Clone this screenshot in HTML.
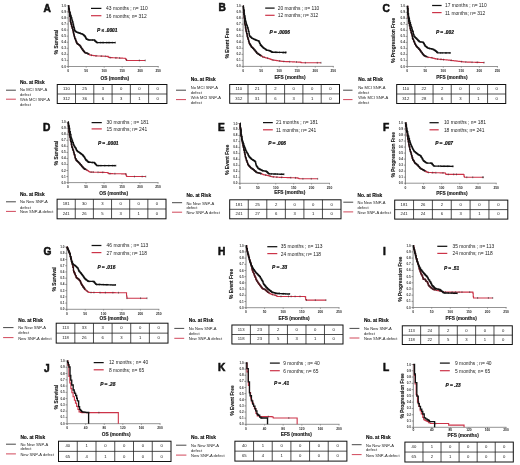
<!DOCTYPE html>
<html><head><meta charset="utf-8"><style>
html,body{margin:0;padding:0;background:#fff;}
svg{display:block;will-change:transform;}
text{font-family:"Liberation Sans", sans-serif;}
</style></head><body>
<svg width="520" height="465" viewBox="0 0 520 465" font-family='"Liberation Sans", sans-serif'>
<rect width="520" height="465" fill="#fff"/>
<text x="43.5" y="11.6" font-size="10.2" font-weight="bold" fill="#111" stroke="#111" stroke-width="0.55">A</text>
<text transform="translate(56 42) rotate(-90)" text-anchor="middle" dominant-baseline="central" font-size="4.8" font-weight="bold" fill="#222" stroke="#222" stroke-width="0.15">% Survival</text>
<path d="M68.2 5.5 V67.7" stroke="#777" stroke-width="0.9" fill="none"/>
<path d="M66.6 66.5H68.2M66.6 60.43H68.2M66.6 54.36H68.2M66.6 48.29H68.2M66.6 42.22H68.2M66.6 36.15H68.2M66.6 30.08H68.2M66.6 24.01H68.2M66.6 17.94H68.2M66.6 11.87H68.2M66.6 5.8H68.2" stroke="#555" stroke-width="0.6" fill="none"/>
<g font-size="3.1" font-weight="bold" fill="#333"><text x="65.9" y="66.5" text-anchor="end" dominant-baseline="central">0.0</text><text x="65.9" y="60.43" text-anchor="end" dominant-baseline="central">0.1</text><text x="65.9" y="54.36" text-anchor="end" dominant-baseline="central">0.2</text><text x="65.9" y="48.29" text-anchor="end" dominant-baseline="central">0.3</text><text x="65.9" y="42.22" text-anchor="end" dominant-baseline="central">0.4</text><text x="65.9" y="36.15" text-anchor="end" dominant-baseline="central">0.5</text><text x="65.9" y="30.08" text-anchor="end" dominant-baseline="central">0.6</text><text x="65.9" y="24.01" text-anchor="end" dominant-baseline="central">0.7</text><text x="65.9" y="17.94" text-anchor="end" dominant-baseline="central">0.8</text><text x="65.9" y="11.87" text-anchor="end" dominant-baseline="central">0.9</text><text x="65.9" y="5.8" text-anchor="end" dominant-baseline="central">1.0</text></g>
<path d="M68.2 66.5 H158.7" stroke="#888" stroke-width="0.9" fill="none"/>
<path d="M68.2 66.5V67.7M86.2 66.5V67.7M104.2 66.5V67.7M122.2 66.5V67.7M140.2 66.5V67.7M158.2 66.5V67.7" stroke="#666" stroke-width="0.6" fill="none"/>
<g font-size="3.3" font-weight="bold" fill="#2a2a2a"><text x="68.2" y="70.9" text-anchor="middle" dominant-baseline="central">0</text><text x="86.2" y="70.9" text-anchor="middle" dominant-baseline="central">50</text><text x="104.2" y="70.9" text-anchor="middle" dominant-baseline="central">100</text><text x="122.2" y="70.9" text-anchor="middle" dominant-baseline="central">150</text><text x="140.2" y="70.9" text-anchor="middle" dominant-baseline="central">200</text><text x="158.2" y="70.9" text-anchor="middle" dominant-baseline="central">250</text></g>
<text x="114.8" y="78.3" text-anchor="middle" dominant-baseline="central" font-size="4.8" font-weight="bold" fill="#222" stroke="#222" stroke-width="0.15">OS (months)</text>
<path d="M68.2 5.8L68.7 5.8L68.7 8.9L69.22 8.9L69.22 12.17L69.74 12.17L69.74 16.32L70.3 16.32L70.3 21.28L70.61 21.28L70.61 22.51L71.01 22.51L71.01 24.12L71.5 24.12L71.5 26.12L72.07 26.12L72.07 28L72.64 28L72.64 29.89L73.16 29.89L73.16 31.92L73.44 31.92L73.44 33.04L73.78 33.04L73.78 34.42L74.04 34.42L74.04 35.5L74.32 35.5L74.32 36.64L74.67 36.64L74.67 38.07L75 38.07L75 38.96L75.59 38.96L75.59 40.39L76.06 40.39L76.06 41.51L76.3 41.51L76.3 42.1L76.83 42.1L76.83 43.38L77.29 43.38L77.29 43.77L77.71 43.77L77.71 44.06L78.19 44.06L78.19 44.39L78.53 44.39L78.53 44.62L78.77 44.62L78.77 44.78L79.26 44.78L79.26 45.11L79.64 45.11L79.64 45.52L79.9 45.52L79.9 45.93L80.55 45.93L80.55 46.92L80.88 46.92L80.88 47.44L81.45 47.44L81.45 48.31L81.93 48.31L81.93 49L82.54 49L82.54 49.8L82.99 49.8L82.99 50.39L83.29 50.39L83.29 50.79L83.79 50.79L83.79 51.45L84.33 51.45L84.33 52.16L84.8 52.16L84.8 52.6L85.08 52.6L85.08 52.69L85.55 52.69L85.55 52.85L86.18 52.85L86.18 53.06L86.6 53.06L86.6 53.2L87.19 53.2L87.19 53.4L87.69 53.4L87.69 53.68L88.1 53.68L88.1 53.91L88.55 53.91L88.55 54.16L88.79 54.16L88.79 54.3L89.36 54.3L89.36 54.62L89.74 54.62L89.74 54.83L90.1 54.83L90.1 55.03L90.33 55.03L90.33 55.11L90.76 55.11L90.76 55.17L91.16 55.17L91.16 55.23L91.4 55.23L91.4 55.26L91.93 55.26L91.93 55.33L92.32 55.33L92.32 55.39L92.84 55.39L92.84 55.46L93.16 55.46L93.16 55.51L93.71 55.51L93.71 55.59L94.24 55.59L94.24 55.66L94.7 55.66L94.7 55.73L95.03 55.73L95.03 55.77L95.54 55.77L95.54 55.84L96.12 55.84L96.12 55.89L96.51 55.89L96.51 55.91L97.07 55.91L97.07 55.93L97.45 55.93L97.45 55.95L97.89 55.95L97.89 55.97L98.27 55.97L98.27 55.98L98.5 55.98L98.5 55.99L98.75 55.99L98.75 56L99.07 56L99.07 56.01L99.55 56.01L99.55 56.03L99.87 56.03L99.87 56.05L100.49 56.05L100.49 56.07L100.9 56.07L100.9 56.09L101.44 56.09L101.44 56.11L101.68 56.11L101.68 56.12L102.17 56.12L102.17 56.14L102.5 56.14L102.5 56.16L103.12 56.16L103.12 56.18L103.55 56.18L103.55 56.2L104.05 56.2L104.05 56.22L104.42 56.22L104.42 56.24L104.85 56.24L104.85 56.26L105.28 56.26L105.28 56.27L105.87 56.27L105.87 56.3L106.44 56.3L106.44 56.32L106.66 56.32L106.66 56.33L107.17 56.33L107.17 56.35L107.44 56.35L107.44 56.36L108.06 56.36L108.06 56.86L108.62 56.86L108.62 57.31L109.06 57.31L109.06 57.53L109.55 57.53L109.55 57.55L110 57.55L110 57.57L110.25 57.57L110.25 57.58L110.5 57.58L110.5 57.6L110.93 57.6L110.93 57.62L111.41 57.62L111.41 57.64L111.8 57.64L111.8 57.66L112.17 57.66L112.17 57.68L112.77 57.68L112.77 57.71L113.01 57.71L113.01 57.72L113.51 57.72L113.51 57.74L114.12 57.74L114.12 57.77L114.68 57.77L114.68 57.8L115.26 57.8L115.26 57.83L115.7 57.83L115.7 57.85L115.94 57.85L115.94 57.86L116.41 57.86L116.41 57.88L116.64 57.88L116.64 57.89L117.01 57.89L117.01 57.91L117.48 57.91L117.48 57.94L118.05 57.94L118.05 57.96L118.58 57.96L118.58 57.99L118.83 57.99L118.83 58L119.41 58L119.41 58.03L119.95 58.03L119.95 58.06L120.55 58.06L120.55 58.09L120.81 58.09L120.81 58.1L121.43 58.1L121.43 58.13L121.93 58.13L121.93 58.15L122.25 58.15L122.25 58.17L122.52 58.17L122.52 58.18L123 58.18L123 58.2L123.28 58.2L123.28 58.22L123.52 58.22L123.52 58.23L123.99 58.23L123.99 58.25L124.46 58.25L124.46 58.28L124.74 58.28L124.74 58.29L125.24 58.29L125.24 58.55L125.61 58.55L125.61 59.09L126.09 59.09L126.09 59.8L126.51 59.8L126.51 60.41L127.05 60.41L127.05 60.43L127.67 60.43L128.24 60.43L128.63 60.43L129.14 60.43L129.55 60.43L130.11 60.43L130.46 60.43L130.74 60.43L131.08 60.43L131.52 60.43L132.03 60.43L132.64 60.43L133.12 60.43L133.58 60.43L134.21 60.43L134.5 60.43L135.15 60.43L135.67 60.43L135.9 60.43L136.54 60.43L137.11 60.43L137.72 60.43L138.37 60.43L138.73 60.43L139.04 60.43L139.61 60.43L140.18 60.43L140.45 60.43L140.74 60.43L141.13 60.43L141.57 60.43L141.81 60.43L142.28 60.43L142.75 60.43L143.01 60.43L143.49 60.43L143.95 60.43L144.54 60.43L145.07 60.43L145.24 60.43" stroke="#cc3348" stroke-width="1.1" fill="none"/>
<path d="M68.2 5.8L68.7 5.8L68.7 8.9L69.22 8.9L69.22 12.17L69.74 12.17L69.74 16.32L70.3 16.32L70.3 21.28L70.61 21.28L70.61 22.51L71.01 22.51L71.01 24.12L71.5 24.12L71.5 26.12L72.07 26.12L72.07 28L72.64 28L72.64 29.89L73.16 29.89L73.16 31.92L73.44 31.92L73.44 33.04L73.78 33.04L73.78 34.42L74.04 34.42L74.04 35.5L74.32 35.5L74.32 36.64L74.67 36.64L74.67 38.07L75 38.07L75 38.96L75.59 38.96L75.59 40.39L76.06 40.39L76.06 41.51L76.3 41.51L76.3 42.1L76.83 42.1L76.83 43.38L77.29 43.38L77.29 43.77L77.71 43.77L77.71 44.06L78.19 44.06L78.19 44.39L78.53 44.39L78.53 44.62L78.77 44.62L78.77 44.78L79.26 44.78L79.26 45.11L79.64 45.11L79.64 45.52L79.9 45.52L79.9 45.93L80.55 45.93L80.55 46.92L80.88 46.92L80.88 47.44L81.45 47.44L81.45 48.31L81.93 48.31L81.93 49L82.54 49L82.54 49.8L82.99 49.8L82.99 50.39L83.29 50.39L83.29 50.79L83.79 50.79L83.79 51.45L84.33 51.45L84.33 52.16L84.8 52.16L84.8 52.6L85.08 52.6L85.08 52.69L85.55 52.69L85.55 52.85L86.18 52.85L86.18 53.06L86.6 53.06L86.6 53.2L87.19 53.2L87.19 53.4L87.69 53.4L87.69 53.68L88.1 53.68L88.1 53.91L88.55 53.91L88.55 54.16L88.79 54.16L88.79 54.3" stroke="#111" stroke-width="1.3" fill="none"/>
<path d="M68.2 5.8L68.65 5.8L68.65 7.87L68.92 7.87L68.92 9.14L69.15 9.14L69.15 10.18L69.44 10.18L69.44 11.55L69.71 11.55L69.71 12.78L70.18 12.78L70.18 14.52L70.59 14.52L70.59 15.89L71.21 15.89L71.21 17.96L71.84 17.96L71.84 20.05L72.42 20.05L72.42 21.99L72.99 21.99L72.99 24.22L73.5 24.22L73.5 26.24L73.78 26.24L73.78 27.39L74.25 27.39L74.25 29.27L74.68 29.27L74.68 30.75L75.11 30.75L75.11 31.12L75.56 31.12L75.56 31.51L76.04 31.51L76.04 31.91L76.46 31.91L76.46 32.07L76.99 32.07L76.99 32.26L77.31 32.26L77.31 32.38L77.63 32.38L77.63 32.5L78.21 32.5L78.21 32.71L78.7 32.71L78.7 32.89L79 32.89L79 33L79.56 33L79.56 33.21L80 33.21L80 33.37L80.6 33.37L80.6 33.58L80.93 33.58L80.93 33.69L81.49 33.69L81.49 33.89L82.13 33.89L82.13 34.12L82.64 34.12L82.64 34.3L83.2 34.3L83.2 34.71L83.79 34.71L83.79 35.3L84.16 35.3L84.16 35.68L84.5 35.68L84.5 36.02L85.02 36.02L85.02 36.54L85.39 36.54L85.39 37.27L85.74 37.27L85.74 37.98L86.14 37.98L86.14 38.78L86.61 38.78L86.61 39.27L87.08 39.27L87.08 39.43L87.68 39.43L87.68 39.63L88.31 39.63L88.31 39.84L88.81 39.84L88.81 40.01L89.36 40.01L89.36 40.03L89.9 40.03L90.2 40.03L90.78 40.03L91.37 40.03L92 40.03L92.32 40.03L92.7 40.03L93.1 40.03L93.62 40.03L94.02 40.03L94.62 40.03L94.62 40.57L94.86 40.57L94.86 40.81L95.46 40.81L95.46 41.41L96.08 41.41L96.08 42.02L96.43 42.02L96.43 42.37L96.71 42.37L96.71 42.58L97.27 42.58L97.9 42.58L98.27 42.58L98.88 42.58L99.43 42.58L99.92 42.58L100.31 42.58L100.53 42.58L101.14 42.58L101.71 42.58L102.35 42.58L102.66 42.58L103.25 42.58L103.87 42.58L104.36 42.58L104.71 42.58L105.04 42.58L105.67 42.58L105.98 42.58L106.43 42.58L106.87 42.58L107.23 42.58L107.52 42.58L107.74 42.58L108.28 42.58L108.76 42.58L109.23 42.58L109.45 42.58L110.06 42.58L110.37 42.58L110.67 42.58L111.05 42.58L111.42 42.58L111.89 42.58L112.34 42.58L112.62 42.58L113.15 42.58L113.58 42.58L114.11 42.58L114.46 42.58L114.99 42.58L115.33 42.58L115.36 42.58" stroke="#111" stroke-width="1.35" fill="none"/>
<path d="M80.29 46.83v-1.8M81.32 48.34v-1.8M82.52 49.9v-1.8M85.72 53.75v-1.8M87.09 54.1v-1.8M88.52 54.81v-1.8M91.49 56.16v-1.8M96.06 56.74v-1.8M101.27 56.99v-1.8M105.25 57.16v-1.8M110.1 58.47v-1.8M115.91 58.75v-1.8M119.6 58.93v-1.8M126.43 60.7v-1.8M139.37 61.33v-1.8M145.24 61.33v-1.8" stroke="#333" stroke-width="0.6" fill="none"/>
<path d="M80.43 34.27v-1.8M82.11 34.79v-1.8M84.31 36.58v-1.8M85.53 38.17v-1.8M87.97 40.53v-1.8M89.78 40.93v-1.8M92.59 40.93v-1.8M94.75 41.47v-1.8M97.52 43.48v-1.8M100.41 43.48v-1.8M102.22 43.48v-1.8M103.46 43.48v-1.8M106.7 43.48v-1.8M108.27 43.48v-1.8M109.66 43.48v-1.8M112.27 43.48v-1.8M115.36 43.48v-1.8" stroke="#111" stroke-width="0.6" fill="none"/>
<path d="M91 8.4H101.4" stroke="#111" stroke-width="1.25" />
<path d="M91 15.7H101.4" stroke="#cc3348" stroke-width="1.2" />
<text x="106.1" y="8.5" dominant-baseline="central" font-size="4.9" fill="#222">43 months ; n= 110</text>
<text x="106.1" y="16.1" dominant-baseline="central" font-size="4.9" fill="#222">16 months; n= 312</text>
<text x="97.1" y="30.7" dominant-baseline="central" font-size="4.8" font-weight="bold" font-style="italic" fill="#111" stroke="#111" stroke-width="0.2">P ≤ .0001</text>
<text x="19.9" y="82.7" dominant-baseline="central" font-size="4.8" font-weight="bold" fill="#111" stroke="#111" stroke-width="0.15">No. at Risk</text>
<path d="M6 90.2H15.9" stroke="#333" stroke-width="0.9" />
<path d="M6 99.2H15.9" stroke="#cc3348" stroke-width="0.9" />
<g font-size="4.05" fill="#1e1e1e"><text x="19.9" y="89.9" dominant-baseline="central">No MCI SNP-A</text><text x="19.9" y="94.5" dominant-baseline="central">defect</text><text x="19.9" y="99.7" dominant-baseline="central">With MCI SNP-A</text><text x="19.9" y="104.7" dominant-baseline="central">defect</text></g>
<rect x="57.25" y="84.5" width="109.65" height="19" fill="none" stroke="#111" stroke-width="1"/>
<path d="M57.25 94H166.9M75.53 84.5V103.5M93.8 84.5V103.5M112.08 84.5V103.5M130.35 84.5V103.5M148.62 84.5V103.5" stroke="#222" stroke-width="0.8" fill="none"/>
<g font-size="4.2" fill="#1a1a1a" text-anchor="middle"><text x="66.39" y="88.85" dominant-baseline="central">110</text><text x="84.66" y="88.85" dominant-baseline="central">25</text><text x="102.94" y="88.85" dominant-baseline="central">3</text><text x="121.21" y="88.85" dominant-baseline="central">0</text><text x="139.49" y="88.85" dominant-baseline="central">0</text><text x="157.76" y="88.85" dominant-baseline="central">0</text><text x="66.39" y="98.35" dominant-baseline="central">312</text><text x="84.66" y="98.35" dominant-baseline="central">36</text><text x="102.94" y="98.35" dominant-baseline="central">6</text><text x="121.21" y="98.35" dominant-baseline="central">3</text><text x="139.49" y="98.35" dominant-baseline="central">1</text><text x="157.76" y="98.35" dominant-baseline="central">0</text></g>
<text x="218.5" y="11.3" font-size="10.2" font-weight="bold" fill="#111" stroke="#111" stroke-width="0.55">B</text>
<text transform="translate(227.6 43.2) rotate(-90)" text-anchor="middle" dominant-baseline="central" font-size="4.8" font-weight="bold" fill="#222" stroke="#222" stroke-width="0.15">% Event Free</text>
<path d="M243.1 5.8 V67.6" stroke="#777" stroke-width="0.9" fill="none"/>
<path d="M241.5 66.4H243.1M241.5 60.37H243.1M241.5 54.34H243.1M241.5 48.31H243.1M241.5 42.28H243.1M241.5 36.25H243.1M241.5 30.22H243.1M241.5 24.19H243.1M241.5 18.16H243.1M241.5 12.13H243.1M241.5 6.1H243.1" stroke="#555" stroke-width="0.6" fill="none"/>
<g font-size="3.1" font-weight="bold" fill="#333"><text x="240.8" y="66.4" text-anchor="end" dominant-baseline="central">0.0</text><text x="240.8" y="60.37" text-anchor="end" dominant-baseline="central">0.1</text><text x="240.8" y="54.34" text-anchor="end" dominant-baseline="central">0.2</text><text x="240.8" y="48.31" text-anchor="end" dominant-baseline="central">0.3</text><text x="240.8" y="42.28" text-anchor="end" dominant-baseline="central">0.4</text><text x="240.8" y="36.25" text-anchor="end" dominant-baseline="central">0.5</text><text x="240.8" y="30.22" text-anchor="end" dominant-baseline="central">0.6</text><text x="240.8" y="24.19" text-anchor="end" dominant-baseline="central">0.7</text><text x="240.8" y="18.16" text-anchor="end" dominant-baseline="central">0.8</text><text x="240.8" y="12.13" text-anchor="end" dominant-baseline="central">0.9</text><text x="240.8" y="6.1" text-anchor="end" dominant-baseline="central">1.0</text></g>
<path d="M243.1 66.4 H333.8" stroke="#888" stroke-width="0.9" fill="none"/>
<path d="M243.1 66.4V67.6M261.14 66.4V67.6M279.18 66.4V67.6M297.22 66.4V67.6M315.26 66.4V67.6M333.3 66.4V67.6" stroke="#666" stroke-width="0.6" fill="none"/>
<g font-size="3.3" font-weight="bold" fill="#2a2a2a"><text x="243.1" y="70.8" text-anchor="middle" dominant-baseline="central">0</text><text x="261.14" y="70.8" text-anchor="middle" dominant-baseline="central">50</text><text x="279.18" y="70.8" text-anchor="middle" dominant-baseline="central">100</text><text x="297.22" y="70.8" text-anchor="middle" dominant-baseline="central">150</text><text x="315.26" y="70.8" text-anchor="middle" dominant-baseline="central">200</text><text x="333.3" y="70.8" text-anchor="middle" dominant-baseline="central">250</text></g>
<text x="290" y="77.5" text-anchor="middle" dominant-baseline="central" font-size="4.8" font-weight="bold" fill="#222" stroke="#222" stroke-width="0.15">EFS (months)</text>
<path d="M243.1 6.1L243.47 6.1L243.47 10.11L243.85 10.11L243.85 14.35L244.19 14.35L244.19 17.83L244.71 17.83L244.71 23.03L244.94 23.03L244.94 24.93L245.45 24.93L245.45 27.83L245.82 27.83L245.82 29.89L246.14 29.89L246.14 31.63L246.6 31.63L246.6 33.68L247.15 33.68L247.15 36.12L247.53 36.12L247.53 37.61L247.98 37.61L247.98 39.18L248.53 39.18L248.53 41.16L249.05 41.16L249.05 42.94L249.48 42.94L249.48 43.68L249.8 43.68L249.8 44.23L250.23 44.23L250.23 44.98L250.71 44.98L250.71 45.8L251.29 45.8L251.29 46.75L251.64 46.75L251.64 47.1L252.02 47.1L252.02 47.47L252.56 47.47L252.56 47.99L252.96 47.99L252.96 48.39L253.52 48.39L253.52 48.94L253.9 48.94L253.9 49.36L254.2 49.36L254.2 49.73L254.77 49.73L254.77 50.45L255.11 50.45L255.11 50.88L255.68 50.88L255.68 51.59L256.31 51.59L256.31 52.4L256.81 52.4L256.81 53.03L257.26 53.03L257.26 53.36L257.81 53.36L257.81 53.72L258.26 53.72L258.26 54.03L258.85 54.03L258.85 54.43L259.46 54.43L259.46 54.84L259.86 54.84L259.86 55.09L260.32 55.09L260.32 55.38L260.58 55.38L260.58 55.54L261.03 55.54L261.03 55.81L261.49 55.81L261.49 56.1L262.11 56.1L262.11 56.49L262.66 56.49L262.66 56.83L262.88 56.83L262.88 56.95L263.43 56.95L263.43 57.11L263.73 57.11L263.73 57.2L264.26 57.2L264.26 57.36L264.91 57.36L264.91 57.56L265.45 57.56L265.45 57.72L265.92 57.72L265.92 57.84L266.16 57.84L266.16 57.91L266.75 57.91L266.75 58.06L267.01 58.06L267.01 58.13L267.27 58.13L267.27 58.2L267.86 58.2L267.86 58.36L268.34 58.36L268.34 58.48L268.86 58.48L268.86 58.62L269.19 58.62L269.19 58.75L269.63 58.75L269.63 58.91L270.01 58.91L270.01 59.06L270.44 59.06L270.44 59.22L270.84 59.22L270.84 59.38L271.43 59.38L271.43 59.61L271.84 59.61L271.84 59.76L272.28 59.76L272.28 59.93L272.9 59.93L272.9 60.03L273.53 60.03L273.53 60.12L273.84 60.12L273.84 60.17L274.21 60.17L274.21 60.22L274.44 60.22L274.44 60.25L275.06 60.25L275.06 60.34L275.58 60.34L275.58 60.42L276.04 60.42L276.04 60.48L276.44 60.48L276.44 60.54L276.78 60.54L276.78 60.59L277.4 60.59L277.4 60.68L277.71 60.68L277.71 60.72L277.94 60.72L277.94 60.76L278.21 60.76L278.21 60.8L278.48 60.8L278.48 60.83L278.84 60.83L278.84 60.89L279.19 60.89L279.19 60.94L279.5 60.94L279.5 60.98L279.87 60.98L279.87 61.03L280.28 61.03L280.28 61.09L280.72 61.09L280.72 61.16L280.95 61.16L280.95 61.19L281.47 61.19L281.47 61.27L281.95 61.27L281.95 61.33L282.48 61.33L282.48 61.41L282.71 61.41L282.71 61.44L283.08 61.44L283.08 61.47L283.65 61.47L283.65 61.49L283.99 61.49L283.99 61.5L284.3 61.5L284.3 61.52L284.87 61.52L284.87 61.54L285.17 61.54L285.17 61.55L285.82 61.55L285.82 61.58L286.42 61.58L286.42 61.6L286.78 61.6L286.78 61.62L287.23 61.62L287.23 61.64L287.79 61.64L287.79 61.66L288.07 61.66L288.07 61.67L288.67 61.67L288.67 61.7L289.15 61.7L289.15 61.72L289.61 61.72L289.61 61.73L290.2 61.73L290.2 61.76L290.65 61.76L290.65 61.78L291.16 61.78L291.16 61.8L291.79 61.8L291.79 61.82L292.41 61.82L292.41 61.85L292.93 61.85L292.93 61.87L293.52 61.87L293.52 61.89L293.86 61.89L293.86 61.91L294.48 61.91L294.48 61.93L294.75 61.93L294.75 61.95L294.97 61.95L294.97 61.95L295.62 61.95L295.62 61.98L296.02 61.98L296.02 62L296.46 62L296.46 62.01L296.72 62.01L296.72 62.03L297.07 62.03L297.07 62.04L297.72 62.04L297.72 62.07L298.09 62.07L298.09 62.08L298.32 62.08L298.32 62.09L298.56 62.09L298.56 62.1L298.84 62.1L298.84 62.11L299.11 62.11L299.11 62.12L299.56 62.12L299.56 62.14L299.94 62.14L299.94 62.16L300.39 62.16L300.39 62.18L300.82 62.18L300.82 62.37L301.19 62.37L301.19 62.58L301.61 62.58L301.61 62.78L301.98 62.78L302.59 62.78L302.97 62.78L303.36 62.78L303.8 62.78L304.35 62.78L304.67 62.78L305.22 62.78L305.63 62.78L306.1 62.78L306.6 62.78L306.9 62.78L307.48 62.78L308.09 62.78L308.4 62.78L308.84 62.78L309.15 62.78L309.73 62.78L310.29 62.78L310.71 62.78L311.07 62.78L311.51 62.78L311.95 62.78L312.31 62.78L312.74 62.78L313.38 62.78L313.63 62.78L314.26 62.78L314.86 62.78L315.17 62.78L315.58 62.78L316 62.78L316.22 62.78L316.46 62.78L316.7 62.78L317.24 62.78L317.77 62.78L318.39 62.78L318.91 62.78L319.42 62.78L319.96 62.78L320.45 62.78L320.67 62.78L321.03 62.78" stroke="#cc3348" stroke-width="1.1" fill="none"/>
<path d="M243.1 6.1L243.47 6.1L243.47 10.11L243.85 10.11L243.85 14.35L244.19 14.35L244.19 17.83L244.71 17.83L244.71 23.03L244.94 23.03L244.94 24.93L245.45 24.93L245.45 27.83L245.82 27.83L245.82 29.89L246.14 29.89L246.14 31.63L246.6 31.63L246.6 33.68L247.15 33.68L247.15 36.12L247.53 36.12L247.53 37.61L247.98 37.61L247.98 39.18L248.53 39.18L248.53 41.16L249.05 41.16L249.05 42.94L249.48 42.94L249.48 43.68L249.8 43.68L249.8 44.23L250.23 44.23L250.23 44.98L250.71 44.98L250.71 45.8L251.29 45.8L251.29 46.75L251.64 46.75L251.64 47.1L252.02 47.1L252.02 47.47L252.56 47.47L252.56 47.99L252.96 47.99L252.96 48.39L253.52 48.39L253.52 48.94L253.9 48.94L253.9 49.36L254.2 49.36L254.2 49.73L254.77 49.73L254.77 50.45L255.11 50.45L255.11 50.88L255.68 50.88L255.68 51.59L256.31 51.59L256.31 52.4L256.81 52.4L256.81 53.03L257.26 53.03L257.26 53.36L257.81 53.36L257.81 53.72L258.26 53.72L258.26 54.03L258.85 54.03L258.85 54.43L259.46 54.43L259.46 54.84L259.86 54.84L259.86 55.09L260.32 55.09L260.32 55.38L260.58 55.38L260.58 55.54L261.03 55.54L261.03 55.81" stroke="#111" stroke-width="1.3" fill="none"/>
<path d="M243.1 6.1L243.34 6.1L243.34 7.85L243.64 7.85L243.64 10.11L244.16 10.11L244.16 13.98L244.44 13.98L244.44 16.02L245.03 16.02L245.03 18.76L245.36 18.76L245.36 20.3L245.58 20.3L245.58 21.33L245.99 21.33L245.99 22.87L246.28 22.87L246.28 23.82L246.5 23.82L246.5 24.56L246.84 24.56L246.84 25.67L247.26 25.67L247.26 27.02L247.56 27.02L247.56 27.97L248.14 27.97L248.14 29.85L248.49 29.85L248.49 31.32L249.01 31.32L249.01 33.82L249.38 33.82L249.38 35.6L249.64 35.6L249.64 36.13L250.04 36.13L250.04 36.53L250.56 36.53L250.56 37.03L250.98 37.03L250.98 37.44L251.48 37.44L251.48 37.92L251.75 37.92L251.75 38.13L252.02 38.13L252.02 38.27L252.3 38.27L252.3 38.41L252.73 38.41L252.73 38.63L253.31 38.63L253.31 38.93L253.7 38.93L253.7 39.12L254.27 39.12L254.27 39.41L254.53 39.41L254.53 39.51L254.85 39.51L254.85 39.63L255.36 39.63L255.36 39.83L255.91 39.83L255.91 40.05L256.47 40.05L256.47 40.27L256.75 40.27L256.75 40.38L257.2 40.38L257.2 40.55L257.52 40.55L257.52 40.68L258.06 40.68L258.06 40.89L258.53 40.89L258.53 41.07L259.05 41.07L259.05 42.18L259.6 42.18L259.6 43.4L260.24 43.4L260.24 44.81L260.66 44.81L260.66 45.26L261.31 45.26L261.31 45.91L261.65 45.91L261.65 46.25L262.25 46.25L262.25 46.84L262.51 46.84L262.51 47.11L263.04 47.11L263.04 47.59L263.64 47.59L263.64 48.05L264.1 48.05L264.1 48.4L264.47 48.4L264.47 48.68L265.05 48.68L265.05 49.11L265.62 49.11L265.62 49.54L266.14 49.54L266.14 49.94L266.51 49.94L266.51 50.09L266.95 50.09L266.95 50.16L267.16 50.16L267.16 50.2L267.61 50.2L267.61 50.27L267.96 50.27L267.96 50.33L268.47 50.33L268.47 50.41L268.69 50.41L268.69 50.45L269.1 50.45L269.1 50.59L269.37 50.59L269.37 50.72L269.74 50.72L269.74 50.91L270.38 50.91L270.38 51.24L270.92 51.24L270.92 51.51L271.42 51.51L271.42 51.77L271.79 51.77L271.79 51.96L272.05 51.96L272.05 52.09L272.28 52.09L272.28 52.21L272.73 52.21L272.73 52.24L273.38 52.24L273.38 52.25L273.91 52.25L273.91 52.26L274.22 52.26L274.22 52.27L274.86 52.27L274.86 52.29L275.17 52.29L275.17 52.29L275.41 52.29L275.85 52.29L275.85 52.31L276.26 52.31L276.26 52.32L276.5 52.32L277.12 52.32L277.12 52.33L277.46 52.33L277.46 52.34L277.85 52.34L277.85 52.35L278.08 52.35L278.3 52.35L278.3 52.36L278.93 52.36L278.93 52.37L279.56 52.37L279.56 52.39L280.05 52.39L280.05 52.4L280.29 52.4L280.57 52.4L280.57 52.41L280.84 52.41L280.84 52.42L281.06 52.42L281.63 52.42L281.63 52.43L282.04 52.43L282.04 52.44L282.27 52.44L282.6 52.44L282.6 52.46L283.01 52.46L283.01 52.46L283.46 52.46L283.46 52.47L283.9 52.47L283.9 52.48L284.17 52.48L284.17 52.49L284.73 52.49L284.73 52.5L284.99 52.5L285.4 52.5L285.4 52.52L285.93 52.52L285.93 52.53L286.04 52.53" stroke="#111" stroke-width="1.35" fill="none"/>
<path d="M254.41 50.63v-1.8M255.27 51.78v-1.8M256.93 53.93v-1.8M257.93 54.62v-1.8M260.86 56.44v-1.8M262.68 57.73v-1.8M264.22 58.1v-1.8M267.6 59.1v-1.8M272.97 60.93v-1.8M279.71 61.88v-1.8M283.9 62.39v-1.8M289.69 62.63v-1.8M296.46 62.91v-1.8M305.33 63.68v-1.8M317.29 63.68v-1.8M321.03 63.68v-1.8" stroke="#333" stroke-width="0.6" fill="none"/>
<path d="M255.33 40.53v-1.8M256.22 40.95v-1.8M258.97 41.97v-1.8M261.15 46.16v-1.8M263.08 48.49v-1.8M266.55 50.99v-1.8M270.07 51.81v-1.8M271.88 52.86v-1.8M275.77 53.19v-1.8M277.04 53.22v-1.8M279.43 53.27v-1.8M283.33 53.36v-1.8M285.58 53.42v-1.8M286.04 53.43v-1.8" stroke="#111" stroke-width="0.6" fill="none"/>
<path d="M265.2 8.1H274.6" stroke="#111" stroke-width="1.25" />
<path d="M265.2 15.3H274.6" stroke="#cc3348" stroke-width="1.2" />
<text x="277.7" y="8.2" dominant-baseline="central" font-size="4.9" fill="#222">20 months ; n= 110</text>
<text x="277.7" y="15.7" dominant-baseline="central" font-size="4.9" fill="#222">12 months; n= 312</text>
<text x="269.4" y="32.9" dominant-baseline="central" font-size="4.8" font-weight="bold" font-style="italic" fill="#111" stroke="#111" stroke-width="0.2">P = .0006</text>
<text x="190.8" y="79.8" dominant-baseline="central" font-size="4.8" font-weight="bold" fill="#111" stroke="#111" stroke-width="0.15">No. at Risk</text>
<path d="M176 90.2H186" stroke="#333" stroke-width="0.9" />
<path d="M176 99.6H186" stroke="#cc3348" stroke-width="0.9" />
<g font-size="4.05" fill="#1e1e1e"><text x="190.8" y="87.2" dominant-baseline="central">No MCI SNP-A</text><text x="190.8" y="92.2" dominant-baseline="central">defect</text><text x="190.8" y="97.5" dominant-baseline="central">With MCI SNP-A</text><text x="190.8" y="102.2" dominant-baseline="central">defect</text></g>
<rect x="229.7" y="84.5" width="109.8" height="18.8" fill="none" stroke="#111" stroke-width="1"/>
<path d="M229.7 93.9H339.5M248 84.5V103.3M266.3 84.5V103.3M284.6 84.5V103.3M302.9 84.5V103.3M321.2 84.5V103.3" stroke="#222" stroke-width="0.8" fill="none"/>
<g font-size="4.2" fill="#1a1a1a" text-anchor="middle"><text x="238.85" y="88.8" dominant-baseline="central">110</text><text x="257.15" y="88.8" dominant-baseline="central">21</text><text x="275.45" y="88.8" dominant-baseline="central">2</text><text x="293.75" y="88.8" dominant-baseline="central">0</text><text x="312.05" y="88.8" dominant-baseline="central">0</text><text x="330.35" y="88.8" dominant-baseline="central">0</text><text x="238.85" y="98.2" dominant-baseline="central">312</text><text x="257.15" y="98.2" dominant-baseline="central">31</text><text x="275.45" y="98.2" dominant-baseline="central">6</text><text x="293.75" y="98.2" dominant-baseline="central">3</text><text x="312.05" y="98.2" dominant-baseline="central">1</text><text x="330.35" y="98.2" dominant-baseline="central">0</text></g>
<text x="382.5" y="11.8" font-size="10.2" font-weight="bold" fill="#111" stroke="#111" stroke-width="0.55">C</text>
<text transform="translate(393.5 40.3) rotate(-90)" text-anchor="middle" dominant-baseline="central" font-size="4.8" font-weight="bold" fill="#222" stroke="#222" stroke-width="0.15">% Progression Free</text>
<path d="M407.2 6 V67.7" stroke="#777" stroke-width="0.9" fill="none"/>
<path d="M405.6 66.5H407.2M405.6 60.48H407.2M405.6 54.46H407.2M405.6 48.44H407.2M405.6 42.42H407.2M405.6 36.4H407.2M405.6 30.38H407.2M405.6 24.36H407.2M405.6 18.34H407.2M405.6 12.32H407.2M405.6 6.3H407.2" stroke="#555" stroke-width="0.6" fill="none"/>
<g font-size="3.1" font-weight="bold" fill="#333"><text x="404.9" y="66.5" text-anchor="end" dominant-baseline="central">0.0</text><text x="404.9" y="60.48" text-anchor="end" dominant-baseline="central">0.1</text><text x="404.9" y="54.46" text-anchor="end" dominant-baseline="central">0.2</text><text x="404.9" y="48.44" text-anchor="end" dominant-baseline="central">0.3</text><text x="404.9" y="42.42" text-anchor="end" dominant-baseline="central">0.4</text><text x="404.9" y="36.4" text-anchor="end" dominant-baseline="central">0.5</text><text x="404.9" y="30.38" text-anchor="end" dominant-baseline="central">0.6</text><text x="404.9" y="24.36" text-anchor="end" dominant-baseline="central">0.7</text><text x="404.9" y="18.34" text-anchor="end" dominant-baseline="central">0.8</text><text x="404.9" y="12.32" text-anchor="end" dominant-baseline="central">0.9</text><text x="404.9" y="6.3" text-anchor="end" dominant-baseline="central">1.0</text></g>
<path d="M407.2 66.5 H497.9" stroke="#888" stroke-width="0.9" fill="none"/>
<path d="M407.2 66.5V67.7M425.24 66.5V67.7M443.28 66.5V67.7M461.32 66.5V67.7M479.36 66.5V67.7M497.4 66.5V67.7" stroke="#666" stroke-width="0.6" fill="none"/>
<g font-size="3.3" font-weight="bold" fill="#2a2a2a"><text x="407.2" y="70.9" text-anchor="middle" dominant-baseline="central">0</text><text x="425.24" y="70.9" text-anchor="middle" dominant-baseline="central">50</text><text x="443.28" y="70.9" text-anchor="middle" dominant-baseline="central">100</text><text x="461.32" y="70.9" text-anchor="middle" dominant-baseline="central">150</text><text x="479.36" y="70.9" text-anchor="middle" dominant-baseline="central">200</text><text x="497.4" y="70.9" text-anchor="middle" dominant-baseline="central">250</text></g>
<text x="451.9" y="77.9" text-anchor="middle" dominant-baseline="central" font-size="4.8" font-weight="bold" fill="#222" stroke="#222" stroke-width="0.15">PFS (months)</text>
<path d="M407.2 6.3L407.75 6.3L407.75 14.61L408.24 14.61L408.24 18.22L408.64 18.22L408.64 21.08L408.94 21.08L408.94 23.28L409.45 23.28L409.45 25.77L410.08 25.77L410.08 28.64L410.49 28.64L410.49 30.46L411.07 30.46L411.07 32.41L411.3 32.41L411.3 32.99L411.75 32.99L411.75 34.2L412.05 34.2L412.05 35.89L412.48 35.89L412.48 38.24L412.96 38.24L412.96 39.43L413.55 39.43L413.55 40.87L413.99 40.87L413.99 41.93L414.59 41.93L414.59 43.19L414.94 43.19L414.94 43.91L415.22 43.91L415.22 44.46L415.63 44.46L415.63 45.29L416.16 45.29L416.16 46.19L416.68 46.19L416.68 46.7L416.92 46.7L416.92 46.93L417.24 46.93L417.24 47.25L417.57 47.25L417.57 47.57L417.99 47.57L417.99 47.98L418.58 47.98L418.58 48.56L418.91 48.56L418.91 48.99L419.15 48.99L419.15 49.3L419.75 49.3L419.75 50.12L420.34 50.12L420.34 50.92L420.89 50.92L420.89 51.65L421.13 51.65L421.13 51.97L421.46 51.97L421.46 52.4L421.75 52.4L421.75 52.78L422.36 52.78L422.36 53.58L422.63 53.58L422.63 53.93L422.91 53.93L422.91 54.28L423.22 54.28L423.22 54.68L423.78 54.68L423.78 55.41L424.08 55.41L424.08 55.61L424.72 55.61L424.72 55.94L425.07 55.94L425.07 56.11L425.57 56.11L425.57 56.37L425.87 56.37L425.87 56.52L426.21 56.52L426.21 56.69L426.8 56.69L426.8 57L427.45 57L427.45 57.25L427.77 57.25L427.77 57.29L428.14 57.29L428.14 57.33L428.38 57.33L428.38 57.35L428.68 57.35L428.68 57.39L429.06 57.39L429.06 57.43L429.51 57.43L429.51 57.48L429.97 57.48L429.97 57.53L430.34 57.53L430.34 57.57L430.62 57.57L430.62 57.61L431.08 57.61L431.08 57.66L431.45 57.66L431.45 57.7L431.81 57.7L431.81 57.79L432.45 57.79L432.45 57.97L432.92 57.97L432.92 58.11L433.15 58.11L433.15 58.18L433.78 58.18L433.78 58.36L434.41 58.36L434.41 58.55L434.8 58.55L434.8 58.66L435.44 58.66L435.44 58.85L435.7 58.85L435.7 58.92L436.32 58.92L436.32 59.01L436.6 59.01L436.6 59.04L437.2 59.04L437.2 59.08L437.71 59.08L437.71 59.13L438.34 59.13L438.34 59.18L438.68 59.18L438.68 59.21L439.18 59.21L439.18 59.25L439.81 59.25L439.81 59.3L440.08 59.3L440.08 59.33L440.38 59.33L440.38 59.35L440.83 59.35L440.83 59.39L441.11 59.39L441.11 59.41L441.35 59.41L441.35 59.43L441.57 59.43L441.57 59.45L441.94 59.45L441.94 59.48L442.44 59.48L442.44 59.52L442.85 59.52L442.85 59.56L443.33 59.56L443.33 59.6L443.56 59.6L443.56 59.62L443.82 59.62L443.82 59.64L444.28 59.64L444.28 59.68L444.57 59.68L444.57 59.7L444.79 59.7L444.79 59.72L445.03 59.72L445.03 59.74L445.53 59.74L445.53 59.78L446.16 59.78L446.16 59.84L446.59 59.84L446.59 59.87L446.81 59.87L446.81 59.89L447.11 59.89L447.11 59.93L447.62 59.93L447.62 59.99L448.18 59.99L448.18 60.06L448.49 60.06L448.49 60.1L448.91 60.1L448.91 60.15L449.14 60.15L449.14 60.17L449.59 60.17L449.59 60.23L450.14 60.23L450.14 60.29L450.57 60.29L450.57 60.34L451.12 60.34L451.12 60.41L451.44 60.41L451.44 60.45L451.95 60.45L451.95 60.51L452.37 60.51L452.37 60.56L452.85 60.56L452.85 60.62L453.09 60.62L453.09 60.64L453.51 60.64L453.51 60.69L453.99 60.69L453.99 60.75L454.31 60.75L454.31 60.79L454.77 60.79L454.77 60.84L454.99 60.84L454.99 60.87L455.39 60.87L455.39 60.92L456.01 60.92L456.01 60.99L456.51 60.99L456.51 61.05L456.94 61.05L456.94 61.1L457.54 61.1L457.54 61.18L458.05 61.18L458.05 61.24L458.49 61.24L458.49 61.29L458.87 61.29L458.87 61.33L459.47 61.33L459.47 61.41L459.93 61.41L459.93 61.46L460.35 61.46L460.35 61.51L460.73 61.51L460.73 61.56L461.01 61.56L461.01 61.59L461.31 61.59L461.31 61.63L461.79 61.63L461.79 61.68L462.24 61.68L462.24 61.74L462.79 61.74L462.79 61.8L463.2 61.8L463.2 61.85L463.58 61.85L463.58 61.9L464.04 61.9L464.04 61.95L464.37 61.95L464.37 61.99L465 61.99L465 62.01L465.49 62.01L465.49 62.02L465.84 62.02L465.84 62.03L466.27 62.03L466.27 62.04L466.85 62.04L466.85 62.06L467.48 62.06L467.48 62.08L468 62.08L468 62.1L468.59 62.1L468.59 62.12L469.16 62.12L469.16 62.13L469.53 62.13L469.53 62.14L469.93 62.14L469.93 62.16L470.35 62.16L470.35 62.17L470.59 62.17L470.59 62.18L471.06 62.18L471.06 62.19L471.52 62.19L471.52 62.2L472.07 62.2L472.07 62.22L472.44 62.22L472.44 62.23L473.08 62.23L473.08 62.25L473.61 62.25L473.61 62.27L474.08 62.27L474.08 62.28L474.39 62.28L474.39 62.29L475.02 62.29L475.02 62.31L475.53 62.31L475.53 62.33L476.02 62.33L476.02 62.34L476.32 62.34L476.32 62.35L476.62 62.35L476.62 62.36L476.92 62.36L476.92 62.37L477.54 62.37L477.54 62.39L477.94 62.39L477.94 62.4L478.47 62.4L478.47 62.42L478.98 62.42L478.98 62.43L479.55 62.43L479.55 62.45L479.89 62.45L479.89 62.46L480.19 62.46L480.19 62.47L480.83 62.47L480.83 62.49L481.11 62.49L481.11 62.5L481.75 62.5L481.75 62.52L482.14 62.52L482.14 62.53L482.37 62.53L482.37 62.54L482.72 62.54L482.72 62.55L483.26 62.55L483.26 62.56L483.66 62.56L483.66 62.57L483.93 62.57L483.93 62.58L484.05 62.58" stroke="#cc3348" stroke-width="1.1" fill="none"/>
<path d="M407.2 6.3L407.75 6.3L407.75 14.61L408.24 14.61L408.24 18.22L408.64 18.22L408.64 21.08L408.94 21.08L408.94 23.28L409.45 23.28L409.45 25.77L410.08 25.77L410.08 28.64L410.49 28.64L410.49 30.46L411.07 30.46L411.07 32.41L411.3 32.41L411.3 32.99L411.75 32.99L411.75 34.2L412.05 34.2L412.05 35.89L412.48 35.89L412.48 38.24L412.96 38.24L412.96 39.43L413.55 39.43L413.55 40.87L413.99 40.87L413.99 41.93L414.59 41.93L414.59 43.19L414.94 43.19L414.94 43.91L415.22 43.91L415.22 44.46L415.63 44.46L415.63 45.29L416.16 45.29L416.16 46.19L416.68 46.19L416.68 46.7L416.92 46.7L416.92 46.93L417.24 46.93L417.24 47.25L417.57 47.25L417.57 47.57L417.99 47.57L417.99 47.98L418.58 47.98L418.58 48.56L418.91 48.56L418.91 48.99L419.15 48.99L419.15 49.3L419.75 49.3L419.75 50.12L420.34 50.12L420.34 50.92L420.89 50.92L420.89 51.65L421.13 51.65L421.13 51.97L421.46 51.97L421.46 52.4L421.75 52.4L421.75 52.78L422.36 52.78L422.36 53.58L422.63 53.58L422.63 53.93L422.91 53.93L422.91 54.28L423.22 54.28L423.22 54.68L423.78 54.68L423.78 55.41L424.08 55.41L424.08 55.61L424.72 55.61L424.72 55.94L425.07 55.94L425.07 56.11L425.57 56.11L425.57 56.37L425.87 56.37L425.87 56.52L426.21 56.52L426.21 56.69L426.8 56.69L426.8 57" stroke="#111" stroke-width="1.3" fill="none"/>
<path d="M407.2 6.3L407.46 6.3L407.46 8.57L408.04 8.57L408.04 13.73L408.51 13.73L408.51 16.48L408.82 16.48L408.82 18.11L409.38 18.11L409.38 21.04L409.85 21.04L409.85 22.7L410.42 22.7L410.42 24.66L410.91 24.66L410.91 26.3L411.44 26.3L411.44 27.97L411.99 27.97L411.99 29.58L412.35 29.58L412.35 30.65L412.61 30.65L412.61 31.4L413.22 31.4L413.22 33.64L413.48 33.64L413.48 34.64L413.94 34.64L413.94 36.25L414.59 36.25L414.59 36.88L414.96 36.88L414.96 37.24L415.28 37.24L415.28 37.56L415.67 37.56L415.67 37.94L415.97 37.94L415.97 38.23L416.51 38.23L416.51 38.77L416.86 38.77L416.86 39.12L417.11 39.12L417.11 39.38L417.58 39.38L417.58 39.87L417.91 39.87L417.91 40.21L418.2 40.21L418.2 40.51L418.43 40.51L418.43 40.74L419.01 40.74L419.01 41.34L419.39 41.34L419.39 41.73L419.86 41.73L419.86 41.87L420.29 41.87L420.29 41.92L420.88 41.92L420.88 41.99L421.13 41.99L421.13 42.02L421.62 42.02L421.62 42.08L422.19 42.08L422.19 42.15L422.53 42.15L422.53 42.19L422.94 42.19L422.94 42.25L423.3 42.25L423.3 42.88L423.65 42.88L423.65 43.51L424.28 43.51L424.28 44.6L424.6 44.6L424.6 45.16L425.13 45.16L425.13 46.06L425.37 46.06L425.37 46.23L425.92 46.23L425.92 46.62L426.17 46.62L426.17 46.8L426.73 46.8L426.73 47.2L426.98 47.2L426.98 47.38L427.29 47.38L427.29 47.6L427.62 47.6L427.62 47.83L427.96 47.83L427.96 48.08L428.51 48.08L428.51 48.28L428.94 48.28L428.94 48.37L429.18 48.37L429.18 48.42L429.47 48.42L429.47 48.48L429.87 48.48L429.87 48.56L430.4 48.56L430.4 48.67L430.89 48.67L430.89 48.78L431.31 48.78L431.31 48.86L431.88 48.86L431.88 48.98L432.51 48.98L432.51 49.13L433.13 49.13L433.13 49.52L433.78 49.52L433.78 49.92L434.4 49.92L434.4 50.29L435.04 50.29L435.04 50.69L435.57 50.69L435.57 51.01L436.08 51.01L436.08 51.41L436.55 51.41L436.55 51.87L436.94 51.87L436.94 52.26L437.52 52.26L437.52 52.83L437.9 52.83L437.9 52.89L438.51 52.89L438.91 52.89L439.14 52.89L439.72 52.89L440.15 52.89L440.37 52.89L440.94 52.89L441.5 52.89L442.09 52.89L442.51 52.89L442.8 52.89L443.11 52.89L443.56 52.89L444.07 52.89L444.53 52.89L444.85 52.89L445.13 52.89L445.76 52.89L446.41 52.89L447.04 52.89L447.48 52.89L447.73 52.89L448.04 52.89L448.5 52.89L449.09 52.89L449.61 52.89L449.87 52.89L450.39 52.89" stroke="#111" stroke-width="1.35" fill="none"/>
<path d="M418.59 49.46v-1.8M421.46 52.87v-1.8M422.91 55.18v-1.8M425.56 57.01v-1.8M428.01 58.19v-1.8M431.92 58.69v-1.8M437.59 59.98v-1.8M440.99 60.29v-1.8M443.4 60.5v-1.8M451.16 61.31v-1.8M461.65 62.53v-1.8M465.85 62.93v-1.8M472.03 63.1v-1.8M477.26 63.27v-1.8M484.05 63.48v-1.8" stroke="#333" stroke-width="0.6" fill="none"/>
<path d="M418.78 41.64v-1.8M420.26 42.77v-1.8M422.03 42.98v-1.8M424.84 46.06v-1.8M426.99 48.28v-1.8M429.57 49.38v-1.8M431.89 49.88v-1.8M435.36 51.59v-1.8M436.98 53.16v-1.8M440.59 53.79v-1.8M442.23 53.79v-1.8M445.5 53.79v-1.8M446.62 53.79v-1.8M449.23 53.79v-1.8M450.39 53.79v-1.8" stroke="#111" stroke-width="0.6" fill="none"/>
<path d="M432.1 5.5H441.6" stroke="#111" stroke-width="1.25" />
<path d="M432.1 12.6H441.6" stroke="#cc3348" stroke-width="1.2" />
<text x="445" y="5.6" dominant-baseline="central" font-size="4.9" fill="#222">17 months ; n= 110</text>
<text x="445" y="13" dominant-baseline="central" font-size="4.9" fill="#222">11 months; n= 312</text>
<text x="436" y="32.8" dominant-baseline="central" font-size="4.8" font-weight="bold" font-style="italic" fill="#111" stroke="#111" stroke-width="0.2">P = .002</text>
<text x="358.2" y="79.8" dominant-baseline="central" font-size="4.8" font-weight="bold" fill="#111" stroke="#111" stroke-width="0.15">No. at Risk</text>
<path d="M343.1 90.2H352.5" stroke="#333" stroke-width="0.9" />
<path d="M343.1 99.6H352.5" stroke="#cc3348" stroke-width="0.9" />
<g font-size="4.05" fill="#1e1e1e"><text x="358.2" y="87.2" dominant-baseline="central">No MCI SNP-A</text><text x="358.2" y="92.2" dominant-baseline="central">defect</text><text x="358.2" y="97" dominant-baseline="central">With MCI SNP-A</text><text x="358.2" y="102.2" dominant-baseline="central">defect</text></g>
<rect x="396.7" y="84.5" width="109.05" height="19" fill="none" stroke="#111" stroke-width="1"/>
<path d="M396.7 94H505.75M414.88 84.5V103.5M433.05 84.5V103.5M451.23 84.5V103.5M469.4 84.5V103.5M487.57 84.5V103.5" stroke="#222" stroke-width="0.8" fill="none"/>
<g font-size="4.2" fill="#1a1a1a" text-anchor="middle"><text x="405.79" y="88.85" dominant-baseline="central">110</text><text x="423.96" y="88.85" dominant-baseline="central">22</text><text x="442.14" y="88.85" dominant-baseline="central">2</text><text x="460.31" y="88.85" dominant-baseline="central">0</text><text x="478.49" y="88.85" dominant-baseline="central">0</text><text x="496.66" y="88.85" dominant-baseline="central">0</text><text x="405.79" y="98.35" dominant-baseline="central">312</text><text x="423.96" y="98.35" dominant-baseline="central">28</text><text x="442.14" y="98.35" dominant-baseline="central">6</text><text x="460.31" y="98.35" dominant-baseline="central">3</text><text x="478.49" y="98.35" dominant-baseline="central">1</text><text x="496.66" y="98.35" dominant-baseline="central">0</text></g>
<text x="43" y="130.5" font-size="10.2" font-weight="bold" fill="#111" stroke="#111" stroke-width="0.55">D</text>
<text transform="translate(56 153) rotate(-90)" text-anchor="middle" dominant-baseline="central" font-size="4.8" font-weight="bold" fill="#222" stroke="#222" stroke-width="0.15">% Survival</text>
<path d="M68 121.9 V183.8" stroke="#777" stroke-width="0.9" fill="none"/>
<path d="M66.4 182.6H68M66.4 176.56H68M66.4 170.52H68M66.4 164.48H68M66.4 158.44H68M66.4 152.4H68M66.4 146.36H68M66.4 140.32H68M66.4 134.28H68M66.4 128.24H68M66.4 122.2H68" stroke="#555" stroke-width="0.6" fill="none"/>
<g font-size="3.1" font-weight="bold" fill="#333"><text x="65.7" y="182.6" text-anchor="end" dominant-baseline="central">0.0</text><text x="65.7" y="176.56" text-anchor="end" dominant-baseline="central">0.1</text><text x="65.7" y="170.52" text-anchor="end" dominant-baseline="central">0.2</text><text x="65.7" y="164.48" text-anchor="end" dominant-baseline="central">0.3</text><text x="65.7" y="158.44" text-anchor="end" dominant-baseline="central">0.4</text><text x="65.7" y="152.4" text-anchor="end" dominant-baseline="central">0.5</text><text x="65.7" y="146.36" text-anchor="end" dominant-baseline="central">0.6</text><text x="65.7" y="140.32" text-anchor="end" dominant-baseline="central">0.7</text><text x="65.7" y="134.28" text-anchor="end" dominant-baseline="central">0.8</text><text x="65.7" y="128.24" text-anchor="end" dominant-baseline="central">0.9</text><text x="65.7" y="122.2" text-anchor="end" dominant-baseline="central">1.0</text></g>
<path d="M68 182.6 H158.5" stroke="#888" stroke-width="0.9" fill="none"/>
<path d="M68 182.6V183.8M86 182.6V183.8M104 182.6V183.8M122 182.6V183.8M140 182.6V183.8M158 182.6V183.8" stroke="#666" stroke-width="0.6" fill="none"/>
<g font-size="3.3" font-weight="bold" fill="#2a2a2a"><text x="68" y="187" text-anchor="middle" dominant-baseline="central">0</text><text x="86" y="187" text-anchor="middle" dominant-baseline="central">50</text><text x="104" y="187" text-anchor="middle" dominant-baseline="central">100</text><text x="122" y="187" text-anchor="middle" dominant-baseline="central">150</text><text x="140" y="187" text-anchor="middle" dominant-baseline="central">200</text><text x="158" y="187" text-anchor="middle" dominant-baseline="central">250</text></g>
<text x="113.7" y="193.3" text-anchor="middle" dominant-baseline="central" font-size="4.8" font-weight="bold" fill="#222" stroke="#222" stroke-width="0.15">OS (months)</text>
<path d="M68 122.2L68.4 122.2L68.4 126.48L68.93 126.48L68.93 132.09L69.38 132.09L69.38 134.87L69.81 134.87L69.81 137.16L70.38 137.16L70.38 140.16L70.7 140.16L70.7 141.63L71.34 141.63L71.34 144.63L71.78 144.63L71.78 146.7L72.03 146.7L72.03 147.5L72.57 147.5L72.57 149.15L72.88 149.15L72.88 150.12L73.52 150.12L73.52 152.07L74.03 152.07L74.03 153.83L74.34 153.83L74.34 154.95L74.97 154.95L74.97 157.27L75.32 157.27L75.32 158.58L75.95 158.58L75.95 159.94L76.17 159.94L76.17 160.16L76.51 160.16L76.51 160.5L77 160.5L77 160.99L77.34 160.99L77.34 161.33L77.7 161.33L77.7 161.69L77.96 161.69L77.96 161.96L78.43 161.96L78.43 162.45L79.02 162.45L79.02 163.04L79.36 163.04L79.36 163.39L79.87 163.39L79.87 163.99L80.32 163.99L80.32 164.53L80.84 164.53L80.84 165.17L81.48 165.17L81.48 165.96L81.93 165.96L81.93 166.47L82.3 166.47L82.3 166.89L82.73 166.89L82.73 167.37L83.25 167.37L83.25 167.96L83.9 167.96L83.9 168.64L84.54 168.64L84.54 168.98L84.88 168.98L84.88 169.17L85.14 169.17L85.14 169.3L85.77 169.3L85.77 169.64L86.07 169.64L86.07 169.8L86.58 169.8L86.58 170.07L86.86 170.07L86.86 170.22L87.29 170.22L87.29 170.47L87.82 170.47L87.82 170.81L88.45 170.81L88.45 171.21L88.82 171.21L88.82 171.45L89.22 171.45L89.22 171.71L89.79 171.71L89.79 172.07L90.23 172.07L90.23 172.1L90.49 172.1L90.49 172.11L90.85 172.11L90.85 172.11L91.17 172.11L91.17 172.12L91.71 172.12L91.71 172.14L92.21 172.14L92.21 172.15L92.46 172.15L92.89 172.15L92.89 172.16L93.44 172.16L93.44 172.18L94.02 172.18L94.02 172.19L94.55 172.19L94.55 172.2L95.02 172.2L95.02 172.21L95.44 172.21L95.44 172.22L96.07 172.22L96.07 172.24L96.49 172.24L96.49 172.25L96.82 172.25L96.82 172.26L97.16 172.26L97.16 172.27L97.54 172.27L97.54 172.27L97.93 172.27L97.93 172.28L98.27 172.28L98.27 172.29L98.64 172.29L98.64 172.3L99.23 172.3L99.23 172.31L99.51 172.31L99.51 172.32L99.79 172.32L99.79 172.33L100.1 172.33L100.1 172.33L100.39 172.33L100.39 172.34L101.03 172.34L101.03 172.36L101.61 172.36L101.61 172.37L102.18 172.37L102.18 172.38L102.4 172.38L102.9 172.38L102.9 172.4L103.43 172.4L103.43 172.41L103.73 172.41L103.73 172.42L104.06 172.42L104.06 172.43L104.5 172.43L104.5 172.44L104.89 172.44L104.89 172.45L105.28 172.45L105.28 172.46L105.73 172.46L105.73 172.47L106.28 172.47L106.28 172.48L106.83 172.48L106.83 172.49L107.42 172.49L107.42 172.51L107.99 172.51L107.99 173.1L108.29 173.1L108.29 173.55L108.77 173.55L108.77 173.61L109.09 173.61L109.55 173.61L109.55 173.62L109.92 173.62L109.92 173.63L110.54 173.63L110.54 173.64L110.95 173.64L110.95 173.65L111.37 173.65L111.37 173.65L111.72 173.65L112.15 173.65L112.15 173.67L112.63 173.67L112.63 173.68L112.89 173.68L113.52 173.68L113.52 173.69L113.96 173.69L113.96 173.7L114.28 173.7L114.85 173.7L114.85 173.71L115.09 173.71L115.61 173.71L115.61 173.73L115.99 173.73L115.99 173.73L116.61 173.73L116.61 173.75L116.86 173.75L117.46 173.75L117.46 173.76L117.95 173.76L117.95 173.77L118.47 173.77L118.47 173.78L118.87 173.78L118.87 173.78L119.23 173.78L119.23 173.79L119.7 173.79L119.7 173.8L120.04 173.8L120.65 173.8L120.65 173.82L121.09 173.82L121.09 173.82L121.64 173.82L121.64 173.83L122.17 173.83L122.17 173.84L122.48 173.84L122.9 173.84L122.9 173.86L123.15 173.86L123.41 173.86L123.41 173.86L123.66 173.86L124.3 173.86L124.3 173.88L124.72 173.88L124.72 173.89L125.1 173.89L125.1 173.89L125.62 173.89L125.62 173.96L125.93 173.96L125.93 174.72L126.2 174.72L126.2 175.37L126.45 175.37L126.45 175.99L126.72 175.99L126.72 176.56L127.06 176.56L127.38 176.56L127.79 176.56L128.15 176.56L128.76 176.56L129.2 176.56L129.79 176.56L130.25 176.56L130.71 176.56L131.35 176.56L131.6 176.56L132.22 176.56L132.82 176.56L133.06 176.56L133.29 176.56L133.66 176.56L134 176.56L134.49 176.56L134.85 176.56L135.38 176.56L135.82 176.56L136.19 176.56L136.51 176.56L137.01 176.56L137.31 176.56L137.73 176.56L138.04 176.56L138.54 176.56L139.05 176.56L139.47 176.56L140.02 176.56L140.55 176.56L140.79 176.56L141.26 176.56L141.69 176.56L142.16 176.56L142.58 176.56L143.17 176.56L143.7 176.56L144.24 176.56L144.49 176.56L144.88 176.56L145.19 176.56L145.76 176.56" stroke="#cc3348" stroke-width="1.1" fill="none"/>
<path d="M68 122.2L68.4 122.2L68.4 126.48L68.93 126.48L68.93 132.09L69.38 132.09L69.38 134.87L69.81 134.87L69.81 137.16L70.38 137.16L70.38 140.16L70.7 140.16L70.7 141.63L71.34 141.63L71.34 144.63L71.78 144.63L71.78 146.7L72.03 146.7L72.03 147.5L72.57 147.5L72.57 149.15L72.88 149.15L72.88 150.12L73.52 150.12L73.52 152.07L74.03 152.07L74.03 153.83L74.34 153.83L74.34 154.95L74.97 154.95L74.97 157.27L75.32 157.27L75.32 158.58L75.95 158.58L75.95 159.94L76.17 159.94L76.17 160.16L76.51 160.16L76.51 160.5L77 160.5L77 160.99L77.34 160.99L77.34 161.33L77.7 161.33L77.7 161.69L77.96 161.69L77.96 161.96L78.43 161.96L78.43 162.45L79.02 162.45L79.02 163.04L79.36 163.04L79.36 163.39L79.87 163.39L79.87 163.99L80.32 163.99L80.32 164.53L80.84 164.53L80.84 165.17L81.48 165.17L81.48 165.96L81.93 165.96L81.93 166.47L82.3 166.47L82.3 166.89L82.73 166.89L82.73 167.37L83.25 167.37L83.25 167.96L83.9 167.96L83.9 168.64L84.54 168.64L84.54 168.98L84.88 168.98L84.88 169.17L85.14 169.17L85.14 169.3L85.77 169.3L85.77 169.64" stroke="#111" stroke-width="1.3" fill="none"/>
<path d="M68 122.2L68.22 122.2L68.22 123.43L68.57 123.43L68.57 125.38L69.1 125.38L69.1 128.37L69.68 128.37L69.68 131.62L70.28 131.62L70.28 134.44L70.92 134.44L70.92 137.06L71.22 137.06L71.22 138.23L71.54 138.23L71.54 139.18L71.99 139.18L71.99 140.47L72.48 140.47L72.48 141.92L72.78 141.92L72.78 142.79L73.32 142.79L73.32 144.23L73.66 144.23L73.66 145.11L74.16 145.11L74.16 146.12L74.66 146.12L74.66 146.81L75.01 146.81L75.01 147.3L75.41 147.3L75.41 147.99L75.92 147.99L75.92 149.03L76.37 149.03L76.37 149.95L76.72 149.95L76.72 150.66L77.34 150.66L77.34 151.3L77.71 151.3L77.71 151.54L78.06 151.54L78.06 151.77L78.32 151.77L78.32 151.94L78.94 151.94L78.94 152.35L79.46 152.35L79.46 152.69L79.96 152.69L79.96 153.07L80.4 153.07L80.4 153.4L80.7 153.4L80.7 153.62L80.92 153.62L80.92 153.79L81.38 153.79L81.38 154.14L81.95 154.14L81.95 154.57L82.59 154.57L82.59 155.06L82.85 155.06L82.85 155.26L83.09 155.26L83.09 155.59L83.34 155.59L83.34 155.98L83.62 155.98L83.62 156.43L84.16 156.43L84.16 157.28L84.67 157.28L84.67 158.08L85.24 158.08L85.24 158.97L85.62 158.97L85.62 159.58L85.91 159.58L85.91 160.02L86.5 160.02L86.5 160.52L87.14 160.52L87.14 161.06L87.41 161.06L87.41 161.29L87.65 161.29L87.65 161.49L87.92 161.49L87.92 161.71L88.27 161.71L88.27 162.01L88.77 162.01L88.77 162.21L89.29 162.21L89.29 162.25L89.6 162.25L89.6 162.27L89.89 162.27L89.89 162.29L90.33 162.29L90.33 162.32L90.97 162.32L90.97 162.37L91.62 162.37L91.62 162.42L91.86 162.42L91.86 162.44L92.12 162.44L92.12 162.46L92.35 162.46L92.35 162.48L92.8 162.48L92.8 162.51L93.21 162.51L93.21 162.54L93.75 162.54L93.75 162.58L94.11 162.58L94.11 162.62L94.69 162.62L94.69 163.31L95.24 163.31L95.24 163.95L95.58 163.95L95.58 164.36L96.2 164.36L96.2 165.09L96.68 165.09L96.68 165.63L96.89 165.63L97.43 165.63L97.93 165.63L98.46 165.63L98.92 165.63L99.31 165.63L99.84 165.63L100.34 165.63L100.57 165.63L100.97 165.63L101.38 165.63L101.72 165.63L102.23 165.63L102.55 165.63L103.17 165.63L103.66 165.63L103.96 165.63L104.33 165.63L104.62 165.63L105.05 165.63L105.45 165.63L105.77 165.63L106.1 165.63L106.46 165.63L107.1 165.63L107.38 165.63L108.01 165.63L108.34 165.63L108.71 165.63L108.97 165.63L109.42 165.63L110.02 165.63L110.52 165.63L110.74 165.63L111.17 165.63L111.44 165.63L111.7 165.63L111.99 165.63L112.49 165.63L112.8 165.63L113.37 165.63L113.79 165.63L114.09 165.63L114.32 165.63L114.89 165.63L115.33 165.63L115.88 165.63" stroke="#111" stroke-width="1.35" fill="none"/>
<path d="M79.98 164.89v-1.8M82.82 168.27v-1.8M85.13 170.07v-1.8M86.98 171.12v-1.8M91.17 173.01v-1.8M93.19 173.06v-1.8M98.04 173.18v-1.8M102.76 173.28v-1.8M109.98 174.53v-1.8M114.91 174.61v-1.8M125.84 174.86v-1.8M134.45 177.46v-1.8M142.18 177.46v-1.8M145.76 177.46v-1.8" stroke="#333" stroke-width="0.6" fill="none"/>
<path d="M80.15 153.97v-1.8M81.32 154.69v-1.8M83.14 156.49v-1.8M86.1 160.92v-1.8M89.08 163.11v-1.8M92.28 163.36v-1.8M94.31 163.52v-1.8M97.87 166.53v-1.8M98.9 166.53v-1.8M100.91 166.53v-1.8M104.82 166.53v-1.8M108.82 166.53v-1.8M112.41 166.53v-1.8M114.19 166.53v-1.8M115.88 166.53v-1.8" stroke="#111" stroke-width="0.6" fill="none"/>
<path d="M91.6 122.6H101.8" stroke="#111" stroke-width="1.25" />
<path d="M91.6 128.9H101.8" stroke="#cc3348" stroke-width="1.2" />
<text x="106.6" y="122.7" dominant-baseline="central" font-size="4.9" fill="#222">30 months ; n= 181</text>
<text x="106.6" y="129.3" dominant-baseline="central" font-size="4.9" fill="#222">15 months; n= 241</text>
<text x="98" y="143.4" dominant-baseline="central" font-size="4.8" font-weight="bold" font-style="italic" fill="#111" stroke="#111" stroke-width="0.2">P = .0001</text>
<text x="19.9" y="194.9" dominant-baseline="central" font-size="4.8" font-weight="bold" fill="#111" stroke="#111" stroke-width="0.15">No. at Risk</text>
<path d="M6 201.8H15.9" stroke="#333" stroke-width="0.9" />
<path d="M6 211.4H15.9" stroke="#cc3348" stroke-width="0.9" />
<g font-size="4.05" fill="#1e1e1e"><text x="19.9" y="201.9" dominant-baseline="central">No New SNP-A</text><text x="19.9" y="207.1" dominant-baseline="central">defect</text><text x="19.9" y="211.7" dominant-baseline="central">New SNP-A  defect</text></g>
<rect x="57.1" y="199.2" width="108.9" height="19.6" fill="none" stroke="#111" stroke-width="1"/>
<path d="M57.1 209H166M75.25 199.2V218.8M93.4 199.2V218.8M111.55 199.2V218.8M129.7 199.2V218.8M147.85 199.2V218.8" stroke="#222" stroke-width="0.8" fill="none"/>
<g font-size="4.2" fill="#1a1a1a" text-anchor="middle"><text x="66.17" y="203.7" dominant-baseline="central">181</text><text x="84.33" y="203.7" dominant-baseline="central">30</text><text x="102.48" y="203.7" dominant-baseline="central">3</text><text x="120.62" y="203.7" dominant-baseline="central">0</text><text x="138.78" y="203.7" dominant-baseline="central">0</text><text x="156.93" y="203.7" dominant-baseline="central">0</text><text x="66.17" y="213.5" dominant-baseline="central">241</text><text x="84.33" y="213.5" dominant-baseline="central">26</text><text x="102.48" y="213.5" dominant-baseline="central">5</text><text x="120.62" y="213.5" dominant-baseline="central">3</text><text x="138.78" y="213.5" dominant-baseline="central">1</text><text x="156.93" y="213.5" dominant-baseline="central">0</text></g>
<text x="218.1" y="130.75" font-size="10.2" font-weight="bold" fill="#111" stroke="#111" stroke-width="0.55">E</text>
<text transform="translate(227.2 159.7) rotate(-90)" text-anchor="middle" dominant-baseline="central" font-size="4.8" font-weight="bold" fill="#222" stroke="#222" stroke-width="0.15">% Event Free</text>
<path d="M239.9 123.2 V184.5" stroke="#777" stroke-width="0.9" fill="none"/>
<path d="M238.3 183.3H239.9M238.3 177.32H239.9M238.3 171.34H239.9M238.3 165.36H239.9M238.3 159.38H239.9M238.3 153.4H239.9M238.3 147.42H239.9M238.3 141.44H239.9M238.3 135.46H239.9M238.3 129.48H239.9M238.3 123.5H239.9" stroke="#555" stroke-width="0.6" fill="none"/>
<g font-size="3.1" font-weight="bold" fill="#333"><text x="237.6" y="183.3" text-anchor="end" dominant-baseline="central">0.0</text><text x="237.6" y="177.32" text-anchor="end" dominant-baseline="central">0.1</text><text x="237.6" y="171.34" text-anchor="end" dominant-baseline="central">0.2</text><text x="237.6" y="165.36" text-anchor="end" dominant-baseline="central">0.3</text><text x="237.6" y="159.38" text-anchor="end" dominant-baseline="central">0.4</text><text x="237.6" y="153.4" text-anchor="end" dominant-baseline="central">0.5</text><text x="237.6" y="147.42" text-anchor="end" dominant-baseline="central">0.6</text><text x="237.6" y="141.44" text-anchor="end" dominant-baseline="central">0.7</text><text x="237.6" y="135.46" text-anchor="end" dominant-baseline="central">0.8</text><text x="237.6" y="129.48" text-anchor="end" dominant-baseline="central">0.9</text><text x="237.6" y="123.5" text-anchor="end" dominant-baseline="central">1.0</text></g>
<path d="M239.9 183.3 H330" stroke="#888" stroke-width="0.9" fill="none"/>
<path d="M239.9 183.3V184.5M257.82 183.3V184.5M275.74 183.3V184.5M293.66 183.3V184.5M311.58 183.3V184.5M329.5 183.3V184.5" stroke="#666" stroke-width="0.6" fill="none"/>
<g font-size="3.3" font-weight="bold" fill="#2a2a2a"><text x="239.9" y="187.7" text-anchor="middle" dominant-baseline="central">0</text><text x="257.82" y="187.7" text-anchor="middle" dominant-baseline="central">50</text><text x="275.74" y="187.7" text-anchor="middle" dominant-baseline="central">100</text><text x="293.66" y="187.7" text-anchor="middle" dominant-baseline="central">150</text><text x="311.58" y="187.7" text-anchor="middle" dominant-baseline="central">200</text><text x="329.5" y="187.7" text-anchor="middle" dominant-baseline="central">250</text></g>
<text x="289.8" y="192.9" text-anchor="middle" dominant-baseline="central" font-size="4.8" font-weight="bold" fill="#222" stroke="#222" stroke-width="0.15">EFS (months)</text>
<path d="M239.9 123.5L240.24 123.5L240.24 128.36L240.79 128.36L240.79 134.81L241.02 134.81L241.02 136.08L241.58 136.08L241.58 139.05L241.91 139.05L241.91 140.78L242.37 140.78L242.37 142.93L242.94 142.93L242.94 145.6L243.26 145.6L243.26 147.19L243.77 147.19L243.77 150.01L244.4 150.01L244.4 152.59L244.89 152.59L244.89 154.48L245.25 154.48L245.25 156.59L245.54 156.59L245.54 157.96L246.19 157.96L246.19 159.91L246.53 159.91L246.53 160.85L247.12 160.85L247.12 162.43L247.57 162.43L247.57 163.66L247.85 163.66L247.85 164.41L248.23 164.41L248.23 165.09L248.61 165.09L248.61 165.52L249.09 165.52L249.09 166.07L249.4 166.07L249.4 166.42L249.85 166.42L249.85 166.93L250.3 166.93L250.3 167.45L250.62 167.45L250.62 167.82L251.2 167.82L251.2 168.2L251.62 168.2L251.62 168.49L252.19 168.49L252.19 168.87L252.79 168.87L252.79 169.27L253.32 169.27L253.32 169.65L253.81 169.65L253.81 170.09L254.32 170.09L254.32 170.54L254.61 170.54L254.61 170.78L255.13 170.78L255.13 171.25L255.75 171.25L255.75 171.79L256.25 171.79L256.25 172.23L256.75 172.23L256.75 172.57L257.32 172.57L257.32 172.71L257.78 172.71L257.78 172.82L258.41 172.82L258.41 172.97L258.99 172.97L258.99 173.11L259.22 173.11L259.22 173.16L259.76 173.16L259.76 173.29L260.2 173.29L260.2 173.41L260.69 173.41L260.69 173.59L261.06 173.59L261.06 173.74L261.67 173.74L261.67 173.98L261.99 173.98L261.99 174.1L262.44 174.1L262.44 174.27L262.94 174.27L262.94 174.46L263.33 174.46L263.33 174.62L263.56 174.62L263.56 174.7L263.79 174.7L263.79 174.74L264.24 174.74L264.24 174.83L264.78 174.83L264.78 174.94L265.05 174.94L265.05 174.99L265.58 174.99L265.58 175.09L265.85 175.09L265.85 175.14L266.29 175.14L266.29 175.23L266.66 175.23L266.66 175.3L266.95 175.3L266.95 175.36L267.58 175.36L267.58 175.48L268.02 175.48L268.02 175.59L268.25 175.59L268.25 175.66L268.66 175.66L268.66 175.78L268.95 175.78L268.95 175.87L269.48 175.87L269.48 176.03L270.04 176.03L270.04 176.2L270.44 176.2L270.44 176.32L270.81 176.32L270.81 176.43L271.07 176.43L271.07 176.51L271.71 176.51L271.71 176.7L272.03 176.7L272.03 176.79L272.45 176.79L272.45 176.82L272.99 176.82L272.99 176.86L273.27 176.86L273.27 176.88L273.66 176.88L273.66 176.91L274.25 176.91L274.25 176.95L274.8 176.95L274.8 176.99L275.31 176.99L275.31 177.03L275.57 177.03L275.57 177.05L275.93 177.05L275.93 177.07L276.22 177.07L276.22 177.09L276.64 177.09L276.64 177.12L277.22 177.12L277.22 177.17L277.64 177.17L277.64 177.2L278.24 177.2L278.24 177.24L278.85 177.24L278.85 177.29L279.25 177.29L279.25 177.31L279.67 177.31L279.67 177.33L280.29 177.33L280.29 177.35L280.58 177.35L280.58 177.36L280.89 177.36L280.89 177.37L281.19 177.37L281.19 177.38L281.68 177.38L281.68 177.4L282.25 177.4L282.25 177.42L282.6 177.42L282.6 177.43L282.84 177.43L282.84 177.44L283.19 177.44L283.19 177.45L283.44 177.45L283.44 177.46L284 177.46L284 177.48L284.27 177.48L284.27 177.48L284.54 177.48L284.54 177.49L284.93 177.49L284.93 177.51L285.35 177.51L285.35 177.52L285.77 177.52L285.77 177.54L286.31 177.54L286.31 177.55L286.65 177.55L286.65 177.56L287.19 177.56L287.19 177.58L287.76 177.58L287.76 177.6L288.3 177.6L288.3 177.62L288.72 177.62L288.72 177.63L289.29 177.63L289.29 177.65L289.52 177.65L289.52 177.66L289.92 177.66L289.92 177.67L290.41 177.67L290.41 177.69L290.87 177.69L290.87 177.71L291.19 177.71L291.19 177.72L291.7 177.72L291.7 177.73L292.23 177.73L292.23 177.75L292.74 177.75L292.74 177.77L293.26 177.77L293.26 177.78L293.76 177.78L293.76 177.8L294.13 177.8L294.13 177.81L294.39 177.81L294.39 177.82L295.04 177.82L295.04 177.84L295.32 177.84L295.32 177.85L295.59 177.85L295.59 177.86L296.22 177.86L296.22 177.88L296.62 177.88L296.62 177.9L296.86 177.9L296.86 177.91L297.17 177.91L297.17 177.92L297.5 177.92L297.5 178.02L297.76 178.02L297.76 178.14L298.22 178.14L298.22 178.32L298.7 178.32L298.7 178.53L299.12 178.53L299.12 178.7L299.56 178.7L299.56 178.81L299.79 178.81L300.42 178.81L300.72 178.81L301.31 178.81L301.72 178.81L302.26 178.81L302.71 178.81L303.25 178.81L303.79 178.81L304.2 178.81L304.49 178.81L304.74 178.81L305.36 178.81L305.81 178.81L306.22 178.81L306.7 178.81L307.09 178.81L307.45 178.81L308.02 178.81L308.38 178.81L308.71 178.81L309.33 178.81L309.91 178.81L310.38 178.81L310.98 178.81L311.44 178.81L311.81 178.81L312.22 178.81L312.83 178.81L313.05 178.81L313.32 178.81L313.86 178.81L314.22 178.81L314.71 178.81L315.07 178.81L315.4 178.81L315.72 178.81L316.11 178.81L316.62 178.81L317.19 178.81L317.67 178.81" stroke="#cc3348" stroke-width="1.1" fill="none"/>
<path d="M239.9 123.5L240.24 123.5L240.24 128.36L240.79 128.36L240.79 134.81L241.02 134.81L241.02 136.08L241.58 136.08L241.58 139.05L241.91 139.05L241.91 140.78L242.37 140.78L242.37 142.93L242.94 142.93L242.94 145.6L243.26 145.6L243.26 147.19L243.77 147.19L243.77 150.01L244.4 150.01L244.4 152.59L244.89 152.59L244.89 154.48L245.25 154.48L245.25 156.59L245.54 156.59L245.54 157.96L246.19 157.96L246.19 159.91L246.53 159.91L246.53 160.85L247.12 160.85L247.12 162.43L247.57 162.43L247.57 163.66L247.85 163.66L247.85 164.41L248.23 164.41L248.23 165.09L248.61 165.09L248.61 165.52L249.09 165.52L249.09 166.07L249.4 166.07L249.4 166.42L249.85 166.42L249.85 166.93L250.3 166.93L250.3 167.45L250.62 167.45L250.62 167.82L251.2 167.82L251.2 168.2L251.62 168.2L251.62 168.49L252.19 168.49L252.19 168.87L252.79 168.87L252.79 169.27L253.32 169.27L253.32 169.65L253.81 169.65L253.81 170.09L254.32 170.09L254.32 170.54L254.61 170.54L254.61 170.78L255.13 170.78L255.13 171.25L255.75 171.25L255.75 171.79L256.25 171.79L256.25 172.23L256.75 172.23L256.75 172.57L257.32 172.57L257.32 172.71L257.78 172.71L257.78 172.82L258.41 172.82L258.41 172.97L258.99 172.97L258.99 173.11L259.22 173.11L259.22 173.16L259.76 173.16L259.76 173.29L260.2 173.29L260.2 173.41L260.69 173.41L260.69 173.59L261.06 173.59L261.06 173.74" stroke="#111" stroke-width="1.3" fill="none"/>
<path d="M239.9 123.5L240.35 123.5L240.35 127.76L240.58 127.76L240.58 129.87L241.21 129.87L241.21 134.97L241.55 134.97L241.55 136.77L242.04 136.77L242.04 139.39L242.33 139.39L242.33 140.89L242.71 140.89L242.71 142.13L243.23 142.13L243.23 143.87L243.84 143.87L243.84 145.67L244.19 145.67L244.19 146.49L244.5 146.49L244.5 147.19L244.74 147.19L244.74 147.8L245.17 147.8L245.17 148.91L245.52 148.91L245.52 149.83L245.75 149.83L245.75 150.42L246.02 150.42L246.02 151.13L246.48 151.13L246.48 152.15L246.97 152.15L246.97 152.9L247.47 152.9L247.47 153.66L248 153.66L248 154.74L248.34 154.74L248.34 155.43L248.61 155.43L248.61 155.98L249.13 155.98L249.13 156.8L249.6 156.8L249.6 157.28L250.07 157.28L250.07 157.75L250.31 157.75L250.31 157.99L250.57 157.99L250.57 158.25L251.11 158.25L251.11 158.8L251.38 158.8L251.38 159.07L251.76 159.07L251.76 159.35L252.28 159.35L252.28 159.67L252.74 159.67L252.74 159.95L253.27 159.95L253.27 160.28L253.48 160.28L253.48 160.41L253.93 160.41L253.93 160.69L254.26 160.69L254.26 160.89L254.77 160.89L254.77 161.2L255.1 161.2L255.1 161.89L255.69 161.89L255.69 163.89L256.06 163.89L256.06 165.1L256.36 165.1L256.36 165.84L256.82 165.84L256.82 166.53L257.09 166.53L257.09 166.94L257.65 166.94L257.65 167.8L257.88 167.8L257.88 168.16L258.35 168.16L258.35 168.48L258.88 168.48L258.88 168.8L259.23 168.8L259.23 169.01L259.56 169.01L259.56 169.21L260.1 169.21L260.1 169.54L260.55 169.54L260.55 169.76L260.85 169.76L260.85 169.91L261.46 169.91L261.46 170.21L261.85 170.21L261.85 170.4L262.24 170.4L262.24 170.6L262.6 170.6L262.6 170.78L263.18 170.78L263.18 170.87L263.6 170.87L263.6 170.92L264.14 170.92L264.14 170.98L264.45 170.98L264.45 171.02L264.68 171.02L264.68 171.05L265.28 171.05L265.28 171.12L265.61 171.12L265.61 171.16L265.9 171.16L265.9 171.2L266.23 171.2L266.23 171.39L266.57 171.39L266.57 171.72L266.98 171.72L266.98 172.11L267.59 172.11L267.59 172.7L268.05 172.7L268.05 173.15L268.35 173.15L268.35 173.44L268.62 173.44L268.62 173.7L269.25 173.7L269.25 173.81L269.51 173.81L269.51 173.82L269.94 173.82L269.94 173.84L270.25 173.84L270.25 173.85L270.53 173.85L270.53 173.86L270.91 173.86L270.91 173.87L271.31 173.87L271.31 173.88L271.92 173.88L271.92 173.91L272.23 173.91L272.23 173.92L272.67 173.92L272.67 173.93L272.99 173.93L272.99 173.94L273.58 173.94L273.58 173.96L274.05 173.96L274.05 173.98L274.56 173.98L274.56 174L275.15 174L275.15 174.02L275.5 174.02L275.5 174.03L275.93 174.03L275.93 174.05L276.31 174.05L276.31 174.06L276.84 174.06L276.84 174.08L277.47 174.08L277.47 174.1L277.73 174.1L277.73 174.11L278.07 174.11L278.07 174.12L278.39 174.12L278.39 174.14L278.8 174.14L278.8 174.15L279.05 174.15L279.05 174.16L279.3 174.16L279.3 174.17L279.65 174.17L279.65 174.18L280.14 174.18L280.14 174.2L280.6 174.2L280.6 174.21L280.92 174.21L280.92 174.23L281.17 174.23L281.17 174.23L281.71 174.23L281.71 174.25L281.98 174.25L281.98 174.26L282.5 174.26L282.5 174.28L282.96 174.28L282.96 174.3L283.58 174.3L283.58 174.32L283.81 174.32L283.81 174.33L283.88 174.33" stroke="#111" stroke-width="1.35" fill="none"/>
<path d="M251.55 169.1v-1.8M254 170.99v-1.8M256.31 173.13v-1.8M259.73 174.06v-1.8M260.82 174.49v-1.8M265.67 175.99v-1.8M270.12 177.1v-1.8M273.31 177.78v-1.8M276.87 178.02v-1.8M281.65 178.28v-1.8M290.79 178.59v-1.8M295.56 178.75v-1.8M302.91 179.72v-1.8M311.28 179.72v-1.8M317.67 179.72v-1.8" stroke="#333" stroke-width="0.6" fill="none"/>
<path d="M251.7 159.97v-1.8M253.55 161.31v-1.8M254.57 161.79v-1.8M257.29 167.84v-1.8M259.7 170.11v-1.8M262.54 171.5v-1.8M265.96 172.1v-1.8M267.32 173.01v-1.8M269.96 174.74v-1.8M271.51 174.78v-1.8M275 174.9v-1.8M277.57 175v-1.8M281.54 175.13v-1.8M283.88 175.23v-1.8" stroke="#111" stroke-width="0.6" fill="none"/>
<path d="M263 122.6H272.8" stroke="#111" stroke-width="1.25" />
<path d="M263 129.8H272.8" stroke="#cc3348" stroke-width="1.2" />
<text x="276" y="122.7" dominant-baseline="central" font-size="4.9" fill="#222">21 months ; n= 181</text>
<text x="276" y="130.2" dominant-baseline="central" font-size="4.9" fill="#222">11 months; n= 241</text>
<text x="268.2" y="143.4" dominant-baseline="central" font-size="4.8" font-weight="bold" font-style="italic" fill="#111" stroke="#111" stroke-width="0.2">P = .006</text>
<text x="186.4" y="195.8" dominant-baseline="central" font-size="4.8" font-weight="bold" fill="#111" stroke="#111" stroke-width="0.15">No. at Risk</text>
<path d="M172 202.7H182.1" stroke="#333" stroke-width="0.9" />
<path d="M172 212.2H182.1" stroke="#cc3348" stroke-width="0.9" />
<g font-size="4.05" fill="#1e1e1e"><text x="186.4" y="203.1" dominant-baseline="central">No New SNP-A</text><text x="186.4" y="207.4" dominant-baseline="central">defect</text><text x="186.4" y="212.6" dominant-baseline="central">New SNP-A  defect</text></g>
<rect x="229.7" y="199.8" width="111.3" height="19" fill="none" stroke="#111" stroke-width="1"/>
<path d="M229.7 209.3H341M248.25 199.8V218.8M266.8 199.8V218.8M285.35 199.8V218.8M303.9 199.8V218.8M322.45 199.8V218.8" stroke="#222" stroke-width="0.8" fill="none"/>
<g font-size="4.2" fill="#1a1a1a" text-anchor="middle"><text x="238.97" y="204.15" dominant-baseline="central">181</text><text x="257.52" y="204.15" dominant-baseline="central">25</text><text x="276.07" y="204.15" dominant-baseline="central">2</text><text x="294.62" y="204.15" dominant-baseline="central">0</text><text x="313.18" y="204.15" dominant-baseline="central">0</text><text x="331.73" y="204.15" dominant-baseline="central">0</text><text x="238.97" y="213.65" dominant-baseline="central">241</text><text x="257.52" y="213.65" dominant-baseline="central">27</text><text x="276.07" y="213.65" dominant-baseline="central">6</text><text x="294.62" y="213.65" dominant-baseline="central">3</text><text x="313.18" y="213.65" dominant-baseline="central">1</text><text x="331.73" y="213.65" dominant-baseline="central">0</text></g>
<text x="383.1" y="130.75" font-size="10.2" font-weight="bold" fill="#111" stroke="#111" stroke-width="0.55">F</text>
<text transform="translate(393.1 154.7) rotate(-90)" text-anchor="middle" dominant-baseline="central" font-size="4.8" font-weight="bold" fill="#222" stroke="#222" stroke-width="0.15">% Progression Free</text>
<path d="M405.4 122.7 V184.4" stroke="#777" stroke-width="0.9" fill="none"/>
<path d="M403.8 183.2H405.4M403.8 177.18H405.4M403.8 171.16H405.4M403.8 165.14H405.4M403.8 159.12H405.4M403.8 153.1H405.4M403.8 147.08H405.4M403.8 141.06H405.4M403.8 135.04H405.4M403.8 129.02H405.4M403.8 123H405.4" stroke="#555" stroke-width="0.6" fill="none"/>
<g font-size="3.1" font-weight="bold" fill="#333"><text x="403.1" y="183.2" text-anchor="end" dominant-baseline="central">0.0</text><text x="403.1" y="177.18" text-anchor="end" dominant-baseline="central">0.1</text><text x="403.1" y="171.16" text-anchor="end" dominant-baseline="central">0.2</text><text x="403.1" y="165.14" text-anchor="end" dominant-baseline="central">0.3</text><text x="403.1" y="159.12" text-anchor="end" dominant-baseline="central">0.4</text><text x="403.1" y="153.1" text-anchor="end" dominant-baseline="central">0.5</text><text x="403.1" y="147.08" text-anchor="end" dominant-baseline="central">0.6</text><text x="403.1" y="141.06" text-anchor="end" dominant-baseline="central">0.7</text><text x="403.1" y="135.04" text-anchor="end" dominant-baseline="central">0.8</text><text x="403.1" y="129.02" text-anchor="end" dominant-baseline="central">0.9</text><text x="403.1" y="123" text-anchor="end" dominant-baseline="central">1.0</text></g>
<path d="M405.4 183.2 H496.7" stroke="#888" stroke-width="0.9" fill="none"/>
<path d="M405.4 183.2V184.4M423.56 183.2V184.4M441.72 183.2V184.4M459.88 183.2V184.4M478.04 183.2V184.4M496.2 183.2V184.4" stroke="#666" stroke-width="0.6" fill="none"/>
<g font-size="3.3" font-weight="bold" fill="#2a2a2a"><text x="405.4" y="187.6" text-anchor="middle" dominant-baseline="central">0</text><text x="423.56" y="187.6" text-anchor="middle" dominant-baseline="central">50</text><text x="441.72" y="187.6" text-anchor="middle" dominant-baseline="central">100</text><text x="459.88" y="187.6" text-anchor="middle" dominant-baseline="central">150</text><text x="478.04" y="187.6" text-anchor="middle" dominant-baseline="central">200</text><text x="496.2" y="187.6" text-anchor="middle" dominant-baseline="central">250</text></g>
<text x="451.9" y="193.2" text-anchor="middle" dominant-baseline="central" font-size="4.8" font-weight="bold" fill="#222" stroke="#222" stroke-width="0.15">PFS (months)</text>
<path d="M405.4 123L405.86 123L405.86 126.35L406.4 126.35L406.4 130.26L406.63 130.26L406.63 131.79L407.23 131.79L407.23 135.84L407.73 135.84L407.73 139.11L408.23 139.11L408.23 141.76L408.82 141.76L408.82 144.87L409.18 144.87L409.18 146.82L409.75 146.82L409.75 149.69L410.26 149.69L410.26 151.3L410.54 151.3L410.54 152.17L411.07 152.17L411.07 154.05L411.54 154.05L411.54 155.85L412.12 155.85L412.12 158.02L412.7 158.02L412.7 159.58L413.2 159.58L413.2 160.38L413.69 160.38L413.69 161.15L414.31 161.15L414.31 162.13L414.61 162.13L414.61 162.6L414.9 162.6L414.9 163.06L415.4 163.06L415.4 163.49L415.91 163.49L415.91 163.91L416.55 163.91L416.55 164.43L417.08 164.43L417.08 164.86L417.53 164.86L417.53 165.24L418.14 165.24L418.14 165.98L418.42 165.98L418.42 166.31L418.74 166.31L418.74 166.7L419.38 166.7L419.38 167.47L419.91 167.47L419.91 168.11L420.41 168.11L420.41 168.44L420.85 168.44L420.85 168.68L421.1 168.68L421.1 168.82L421.49 168.82L421.49 169.03L421.8 169.03L421.8 169.2L422.12 169.2L422.12 169.38L422.55 169.38L422.55 169.62L422.81 169.62L422.81 169.76L423.39 169.76L423.39 170.1L423.67 170.1L423.67 170.28L423.88 170.28L423.88 170.41L424.32 170.41L424.32 170.68L424.66 170.68L424.66 170.89L424.97 170.89L424.97 171.08L425.51 171.08L425.51 171.37L426 171.37L426 171.61L426.59 171.61L426.59 171.89L427.23 171.89L427.23 172.2L427.57 172.2L427.57 172.37L428.02 172.37L428.02 172.49L428.39 172.49L428.39 172.5L428.71 172.5L428.71 172.51L429.05 172.51L429.05 172.52L429.42 172.52L429.42 172.53L429.84 172.53L429.84 172.54L430.36 172.54L430.36 172.56L431 172.56L431 172.57L431.61 172.57L431.61 172.59L431.85 172.59L431.85 172.6L432.18 172.6L432.18 172.61L432.8 172.61L432.8 172.62L433.42 172.62L433.42 172.64L433.87 172.64L433.87 172.65L434.19 172.65L434.19 172.66L434.44 172.66L434.44 172.67L434.67 172.67L434.67 172.68L435.3 172.68L435.3 172.69L435.85 172.69L435.85 172.71L436.32 172.71L436.32 172.72L436.81 172.72L436.81 172.74L437.18 172.74L437.18 172.75L437.62 172.75L437.62 172.76L437.93 172.76L437.93 172.77L438.47 172.77L438.47 172.78L438.95 172.78L438.95 172.8L439.43 172.8L439.43 172.81L439.7 172.81L439.7 172.82L439.93 172.82L439.93 172.82L440.15 172.82L440.15 172.83L440.71 172.83L440.71 172.85L441.33 172.85L441.33 172.86L441.83 172.86L441.83 172.88L442.37 172.88L442.37 172.89L442.76 172.89L442.76 172.9L443.19 172.9L443.19 172.92L443.5 172.92L443.5 172.92L444.09 172.92L444.09 172.94L444.32 172.94L444.32 172.95L444.89 172.95L444.89 172.96L445.49 172.96L445.49 173.8L445.8 173.8L445.8 174.31L446.29 174.31L446.29 174.41L446.7 174.41L447.29 174.41L447.59 174.41L448.04 174.41L448.49 174.41L448.85 174.41L449.23 174.41L449.56 174.41L450.02 174.41L450.51 174.41L451.01 174.41L451.25 174.41L451.88 174.41L452.38 174.41L452.77 174.41L453.38 174.41L454.02 174.41L454.28 174.41L454.7 174.41L454.99 174.41L455.54 174.41L456.02 174.41L456.32 174.41L456.8 174.41L457.39 174.41L457.87 174.41L458.25 174.41L458.54 174.41L458.77 174.41L459.15 174.41L459.73 174.41L460.12 174.41L460.38 174.41L460.64 174.41L461.28 174.41L461.93 174.41L462.17 174.41L462.72 174.41L462.95 174.41L463.55 174.41L463.55 174.56L463.97 174.56L463.97 176.23L464.39 176.23L464.39 177.3L464.97 177.3L465.46 177.3L465.94 177.3L466.36 177.3L466.93 177.3L467.49 177.3L467.97 177.3L468.21 177.3L468.65 177.3L469.27 177.3L469.67 177.3L469.91 177.3L470.43 177.3L470.97 177.3L471.41 177.3L471.87 177.3L472.11 177.3L472.73 177.3L473.14 177.3L473.36 177.3L473.58 177.3L474.2 177.3L474.51 177.3L475.14 177.3L475.57 177.3L476.1 177.3L476.35 177.3L476.91 177.3L477.38 177.3L477.87 177.3L478.24 177.3L478.57 177.3L479.12 177.3L479.54 177.3L480.08 177.3L480.61 177.3L481 177.3L481.24 177.3L481.58 177.3L481.91 177.3L482.22 177.3L482.81 177.3L483.21 177.3L483.49 177.3" stroke="#cc3348" stroke-width="1.1" fill="none"/>
<path d="M405.4 123L405.86 123L405.86 126.35L406.4 126.35L406.4 130.26L406.63 130.26L406.63 131.79L407.23 131.79L407.23 135.84L407.73 135.84L407.73 139.11L408.23 139.11L408.23 141.76L408.82 141.76L408.82 144.87L409.18 144.87L409.18 146.82L409.75 146.82L409.75 149.69L410.26 149.69L410.26 151.3L410.54 151.3L410.54 152.17L411.07 152.17L411.07 154.05L411.54 154.05L411.54 155.85L412.12 155.85L412.12 158.02L412.7 158.02L412.7 159.58L413.2 159.58L413.2 160.38L413.69 160.38L413.69 161.15L414.31 161.15L414.31 162.13L414.61 162.13L414.61 162.6L414.9 162.6L414.9 163.06L415.4 163.06L415.4 163.49L415.91 163.49L415.91 163.91L416.55 163.91L416.55 164.43L417.08 164.43L417.08 164.86L417.53 164.86L417.53 165.24L418.14 165.24L418.14 165.98L418.42 165.98L418.42 166.31L418.74 166.31L418.74 166.7L419.38 166.7L419.38 167.47L419.91 167.47L419.91 168.11L420.41 168.11L420.41 168.44L420.85 168.44L420.85 168.68L421.1 168.68L421.1 168.82L421.49 168.82L421.49 169.03L421.8 169.03L421.8 169.2L422.12 169.2L422.12 169.38L422.55 169.38L422.55 169.62L422.81 169.62L422.81 169.76L423.39 169.76L423.39 170.1L423.67 170.1L423.67 170.28L423.88 170.28L423.88 170.41L424.32 170.41L424.32 170.68L424.66 170.68L424.66 170.89L424.97 170.89L424.97 171.08" stroke="#111" stroke-width="1.3" fill="none"/>
<path d="M405.4 123L405.79 123L405.79 124.93L406.44 124.93L406.44 128.11L406.96 128.11L406.96 130.68L407.21 130.68L407.21 131.79L407.67 131.79L407.67 133.89L407.95 133.89L407.95 135.19L408.19 135.19L408.19 136.28L408.77 136.28L408.77 138.34L409.42 138.34L409.42 140.65L409.86 140.65L409.86 142.23L410.36 142.23L410.36 143.54L410.64 143.54L410.64 144.24L410.89 144.24L410.89 144.9L411.24 144.9L411.24 145.77L411.48 145.77L411.48 146.4L412.04 146.4L412.04 147.53L412.33 147.53L412.33 148.08L412.75 148.08L412.75 148.87L412.99 148.87L412.99 149.33L413.29 149.33L413.29 149.9L413.66 149.9L413.66 150.59L414.1 150.59L414.1 151.43L414.45 151.43L414.45 151.7L414.9 151.7L414.9 151.89L415.39 151.89L415.39 152.32L415.67 152.32L415.67 152.58L416.14 152.58L416.14 152.99L416.4 152.99L416.4 153.22L416.9 153.22L416.9 153.67L417.47 153.67L417.47 154.19L418.1 154.19L418.1 154.56L418.7 154.56L418.7 154.87L419.17 154.87L419.17 155.12L419.8 155.12L419.8 155.44L420.33 155.44L420.33 155.71L420.83 155.71L420.83 156.4L421.07 156.4L421.07 156.85L421.31 156.85L421.31 157.29L421.64 157.29L421.64 157.9L422.25 157.9L422.25 159.02L422.86 159.02L422.86 160.15L423.43 160.15L423.43 160.79L423.86 160.79L423.86 161.11L424.17 161.11L424.17 161.34L424.55 161.34L424.55 161.63L425.17 161.63L425.17 162.1L425.5 162.1L425.5 162.34L426.1 162.34L426.1 162.79L426.58 162.79L426.58 163.09L427.03 163.09L427.37 163.09L427.7 163.09L428.03 163.09L428.6 163.09L428.83 163.09L429.22 163.09L429.72 163.09L430.06 163.09L430.35 163.09L431 163.09L431.36 163.09L431.36 163.25L432 163.25L432 164L432.47 164L432.47 164.55L433 164.55L433 165.16L433.38 165.16L433.38 165.62L433.84 165.62L433.84 166.1L434.24 166.1L434.82 166.1L434.82 166.12L435.08 166.12L435.48 166.12L435.48 166.12L435.98 166.12L435.98 166.13L436.59 166.13L436.59 166.14L436.84 166.14L437.47 166.14L437.47 166.15L437.73 166.15L438.09 166.15L438.09 166.16L438.48 166.16L438.78 166.16L438.78 166.17L439.38 166.17L439.38 166.17L439.63 166.17L440.01 166.17L440.01 166.18L440.43 166.18L440.98 166.18L440.98 166.19L441.22 166.19L441.7 166.19L441.7 166.2L442.29 166.2L442.29 166.21L442.51 166.21L442.91 166.21L442.91 166.22L443.54 166.22L443.54 166.22L443.8 166.22L444.15 166.22L444.15 166.23L444.62 166.23L445.16 166.23L445.16 166.24L445.61 166.24L445.92 166.24L445.92 166.25L446.5 166.25L446.5 166.26L447.04 166.26L447.04 166.27L447.32 166.27L447.7 166.27L447.7 166.28L447.93 166.28L448.57 166.28L448.57 166.29L449.13 166.29L449.13 166.29L449.62 166.29L449.62 166.3L450.06 166.3L450.3 166.3L450.3 166.31L450.65 166.31L450.97 166.31L450.97 166.32L451.45 166.32L451.99 166.32L451.99 166.33L452.49 166.33L452.49 166.34L452.99 166.34L452.99 166.34L453.2 166.34" stroke="#111" stroke-width="1.35" fill="none"/>
<path d="M417.22 165.76v-1.8M419.55 168.37v-1.8M420.89 169.58v-1.8M423.88 171.18v-1.8M425.95 172.27v-1.8M428.38 173.39v-1.8M432.63 173.51v-1.8M435.87 173.61v-1.8M442.94 173.8v-1.8M448.26 175.31v-1.8M453.67 175.31v-1.8M456.51 175.31v-1.8M466.79 178.2v-1.8M472.74 178.2v-1.8M482.47 178.2v-1.8M483.49 178.2v-1.8" stroke="#333" stroke-width="0.6" fill="none"/>
<path d="M416.54 154.12v-1.8M418.17 155.46v-1.8M419.39 156.02v-1.8M420.9 157.3v-1.8M423.94 162.01v-1.8M424.76 162.53v-1.8M427.67 163.99v-1.8M430.44 163.99v-1.8M431.36 164.15v-1.8M432.3 164.9v-1.8M434.81 167v-1.8M438.44 167.06v-1.8M440.69 167.08v-1.8M444 167.12v-1.8M447.79 167.18v-1.8M452.27 167.23v-1.8M453.2 167.24v-1.8" stroke="#111" stroke-width="0.6" fill="none"/>
<path d="M429.5 122.7H438.7" stroke="#111" stroke-width="1.25" />
<path d="M429.5 129.8H438.7" stroke="#cc3348" stroke-width="1.2" />
<text x="443.9" y="122.8" dominant-baseline="central" font-size="4.9" fill="#222">10 months ; n= 181</text>
<text x="443.9" y="130.2" dominant-baseline="central" font-size="4.9" fill="#222">18 months; n= 241</text>
<text x="435.2" y="143.9" dominant-baseline="central" font-size="4.8" font-weight="bold" font-style="italic" fill="#111" stroke="#111" stroke-width="0.2">P = .007</text>
<text x="357.5" y="195.8" dominant-baseline="central" font-size="4.8" font-weight="bold" fill="#111" stroke="#111" stroke-width="0.15">No. at Risk</text>
<path d="M343.3 202.2H353.2" stroke="#333" stroke-width="0.9" />
<path d="M343.3 211.9H353.2" stroke="#cc3348" stroke-width="0.9" />
<g font-size="4.05" fill="#1e1e1e"><text x="357.5" y="202.6" dominant-baseline="central">No New SNP-A</text><text x="357.5" y="207.1" dominant-baseline="central">defect</text><text x="357.5" y="212.3" dominant-baseline="central">New SNP-A  defect</text></g>
<rect x="394.7" y="200.1" width="113.1" height="19" fill="none" stroke="#111" stroke-width="1"/>
<path d="M394.7 209.6H507.8M413.55 200.1V219.1M432.4 200.1V219.1M451.25 200.1V219.1M470.1 200.1V219.1M488.95 200.1V219.1" stroke="#222" stroke-width="0.8" fill="none"/>
<g font-size="4.2" fill="#1a1a1a" text-anchor="middle"><text x="404.12" y="204.45" dominant-baseline="central">181</text><text x="422.98" y="204.45" dominant-baseline="central">26</text><text x="441.82" y="204.45" dominant-baseline="central">2</text><text x="460.68" y="204.45" dominant-baseline="central">0</text><text x="479.52" y="204.45" dominant-baseline="central">0</text><text x="498.38" y="204.45" dominant-baseline="central">0</text><text x="404.12" y="213.95" dominant-baseline="central">241</text><text x="422.98" y="213.95" dominant-baseline="central">24</text><text x="441.82" y="213.95" dominant-baseline="central">6</text><text x="460.68" y="213.95" dominant-baseline="central">3</text><text x="479.52" y="213.95" dominant-baseline="central">1</text><text x="498.38" y="213.95" dominant-baseline="central">0</text></g>
<text x="43.4" y="254.8" font-size="10.2" font-weight="bold" fill="#111" stroke="#111" stroke-width="0.55">G</text>
<text transform="translate(54.4 279.2) rotate(-90)" text-anchor="middle" dominant-baseline="central" font-size="4.8" font-weight="bold" fill="#222" stroke="#222" stroke-width="0.15">% Survival</text>
<path d="M66.8 246.8 V310.5" stroke="#777" stroke-width="0.9" fill="none"/>
<path d="M65.2 309.3H66.8M65.2 303.08H66.8M65.2 296.86H66.8M65.2 290.64H66.8M65.2 284.42H66.8M65.2 278.2H66.8M65.2 271.98H66.8M65.2 265.76H66.8M65.2 259.54H66.8M65.2 253.32H66.8M65.2 247.1H66.8" stroke="#555" stroke-width="0.6" fill="none"/>
<g font-size="3.1" font-weight="bold" fill="#333"><text x="64.5" y="309.3" text-anchor="end" dominant-baseline="central">0.0</text><text x="64.5" y="303.08" text-anchor="end" dominant-baseline="central">0.1</text><text x="64.5" y="296.86" text-anchor="end" dominant-baseline="central">0.2</text><text x="64.5" y="290.64" text-anchor="end" dominant-baseline="central">0.3</text><text x="64.5" y="284.42" text-anchor="end" dominant-baseline="central">0.4</text><text x="64.5" y="278.2" text-anchor="end" dominant-baseline="central">0.5</text><text x="64.5" y="271.98" text-anchor="end" dominant-baseline="central">0.6</text><text x="64.5" y="265.76" text-anchor="end" dominant-baseline="central">0.7</text><text x="64.5" y="259.54" text-anchor="end" dominant-baseline="central">0.8</text><text x="64.5" y="253.32" text-anchor="end" dominant-baseline="central">0.9</text><text x="64.5" y="247.1" text-anchor="end" dominant-baseline="central">1.0</text></g>
<path d="M66.8 309.3 H159.3" stroke="#888" stroke-width="0.9" fill="none"/>
<path d="M66.8 309.3V310.5M85.2 309.3V310.5M103.6 309.3V310.5M122 309.3V310.5M140.4 309.3V310.5M158.8 309.3V310.5" stroke="#666" stroke-width="0.6" fill="none"/>
<g font-size="3.3" font-weight="bold" fill="#2a2a2a"><text x="66.8" y="313.7" text-anchor="middle" dominant-baseline="central">0</text><text x="85.2" y="313.7" text-anchor="middle" dominant-baseline="central">50</text><text x="103.6" y="313.7" text-anchor="middle" dominant-baseline="central">100</text><text x="122" y="313.7" text-anchor="middle" dominant-baseline="central">150</text><text x="140.4" y="313.7" text-anchor="middle" dominant-baseline="central">200</text><text x="158.8" y="313.7" text-anchor="middle" dominant-baseline="central">250</text></g>
<text x="113.9" y="318" text-anchor="middle" dominant-baseline="central" font-size="4.8" font-weight="bold" fill="#222" stroke="#222" stroke-width="0.15">OS (months)</text>
<path d="M66.8 247.1L67.25 247.1L67.25 248.03L67.63 248.03L67.63 248.8L67.98 248.8L67.98 249.53L68.44 249.53L68.44 250.56L68.85 250.56L68.85 251.66L69.17 251.66L69.17 252.5L69.41 252.5L69.41 253.14L69.73 253.14L69.73 254.17L70.35 254.17L70.35 256.81L70.98 256.81L70.98 259.35L71.5 259.35L71.5 261.41L71.84 261.41L71.84 262.74L72.3 262.74L72.3 264.54L72.88 264.54L72.88 267.25L73.45 267.25L73.45 270.47L73.69 270.47L73.69 271.84L74.35 271.84L74.35 273.02L74.93 273.02L74.93 274.38L75.42 274.38L75.42 275.53L76.02 275.53L76.02 276.94L76.27 276.94L76.27 277.52L76.55 277.52L76.55 277.79L77.07 277.79L77.07 278.21L77.44 278.21L77.44 278.51L77.94 278.51L77.94 278.91L78.47 278.91L78.47 279.34L79.08 279.34L79.08 279.94L79.39 279.94L79.39 280.37L79.8 280.37L79.8 280.95L80.44 280.95L80.44 282.16L80.86 282.16L80.86 283.07L81.09 283.07L81.09 283.56L81.34 283.56L81.34 284.11L81.78 284.11L81.78 284.87L82.1 284.87L82.1 285.35L82.5 285.35L82.5 285.95L82.92 285.95L82.92 286.59L83.15 286.59L83.15 286.94L83.43 286.94L83.43 287.35L84.07 287.35L84.07 288.32L84.57 288.32L84.57 289.07L85.05 289.07L85.05 289.7L85.46 289.7L85.46 290.01L86.06 290.01L86.06 290.48L86.54 290.48L86.54 290.84L87.15 290.84L87.15 291.32L87.4 291.32L87.4 291.51L87.79 291.51L87.79 291.8L88.44 291.8L88.44 292.24L88.85 292.24L88.85 292.38L89.47 292.38L89.47 292.51L89.9 292.51L90.51 292.51L90.51 292.51L91.03 292.51L91.34 292.51L91.58 292.51L91.58 292.52L91.86 292.52L92.24 292.52L92.86 292.52L92.86 292.53L93.32 292.53L93.79 292.53L93.79 292.54L94.38 292.54L94.6 292.54L95.18 292.54L95.18 292.55L95.46 292.55L96 292.55L96.52 292.55L96.52 292.55L96.9 292.55L97.53 292.55L97.53 292.56L97.9 292.56L98.33 292.56L98.9 292.56L98.9 292.57L99.5 292.57L100.03 292.57L100.03 292.58L100.6 292.58L100.91 292.58L101.3 292.58L101.3 292.59L101.66 292.59L102 292.59L102.49 292.59L102.49 292.59L102.87 292.59L103.12 292.59L103.4 292.59L104.01 292.59L104.01 292.6L104.65 292.6L104.97 292.6L104.97 292.61L105.53 292.61L105.84 292.61L106.08 292.61L106.08 292.62L106.49 292.62L106.78 292.62L107.25 292.62L107.25 292.63L107.88 292.63L108.37 292.63L108.37 292.63L108.82 292.63L109.17 292.63L109.68 292.63L109.68 292.64L110.04 292.64L110.45 292.64L110.87 292.64L110.87 292.65L111.33 292.65L111.96 292.65L111.96 292.66L112.2 292.66L112.62 292.66L113.12 292.66L113.12 292.67L113.49 292.67L113.82 292.67L114.15 292.67L114.15 292.67L114.68 292.67L115.11 292.67L115.11 292.68L115.68 292.68L115.98 292.68L116.37 292.68L116.37 292.69L116.76 292.69L117.18 292.69L117.64 292.69L117.64 292.7L118.04 292.7L118.35 292.7L118.79 292.7L118.79 292.7L119.4 292.7L119.7 292.7L120.25 292.7L120.25 292.71L120.91 292.71L121.23 292.71L121.23 292.72L121.58 292.72L121.91 292.72L122.47 292.72L122.47 292.73L122.93 292.73L123.18 292.73L123.82 292.73L123.82 292.74L124.48 292.74L124.84 292.74L124.84 292.74L125.39 292.74L125.92 292.74L125.92 292.75L126.53 292.75L126.53 296.1L126.94 296.1L126.94 298.23L127.5 298.23L128.14 298.23L128.75 298.23L129.17 298.23L129.61 298.23L130.2 298.23L130.66 298.23L131.28 298.23L131.69 298.23L132.22 298.23L132.67 298.23L133.01 298.23L133.39 298.23L133.86 298.23L134.34 298.23L134.72 298.23L135.07 298.23L135.66 298.23L136.06 298.23L136.66 298.23L137.28 298.23L137.59 298.23L138.11 298.23L138.76 298.23L139.23 298.23L139.85 298.23L140.22 298.23L140.88 298.23L141.33 298.23L141.82 298.23L142.09 298.23L142.58 298.23L143.23 298.23L143.69 298.23L144.09 298.23L144.57 298.23L145.22 298.23L145.62 298.23L146.2 298.23L146.82 298.23L147.02 298.23" stroke="#cc3348" stroke-width="1.1" fill="none"/>
<path d="M66.8 247.1L67.25 247.1L67.25 248.03L67.63 248.03L67.63 248.8L67.98 248.8L67.98 249.53L68.44 249.53L68.44 250.56L68.85 250.56L68.85 251.66L69.17 251.66L69.17 252.5L69.41 252.5L69.41 253.14L69.73 253.14L69.73 254.17L70.35 254.17L70.35 256.81L70.98 256.81L70.98 259.35L71.5 259.35L71.5 261.41L71.84 261.41L71.84 262.74L72.3 262.74L72.3 264.54L72.88 264.54L72.88 267.25L73.45 267.25L73.45 270.47L73.69 270.47L73.69 271.84L74.35 271.84L74.35 273.02L74.93 273.02L74.93 274.38L75.42 274.38L75.42 275.53L76.02 275.53L76.02 276.94L76.27 276.94L76.27 277.52L76.55 277.52L76.55 277.79L77.07 277.79L77.07 278.21L77.44 278.21L77.44 278.51L77.94 278.51L77.94 278.91L78.47 278.91L78.47 279.34L79.08 279.34L79.08 279.94L79.39 279.94L79.39 280.37L79.8 280.37L79.8 280.95L80.44 280.95L80.44 282.16L80.86 282.16L80.86 283.07L81.09 283.07L81.09 283.56L81.34 283.56L81.34 284.11L81.78 284.11L81.78 284.87L82.1 284.87L82.1 285.35L82.5 285.35L82.5 285.95L82.92 285.95L82.92 286.59L83.15 286.59L83.15 286.94L83.43 286.94L83.43 287.35L84.07 287.35L84.07 288.32L84.57 288.32L84.57 289.07L85.05 289.07L85.05 289.7" stroke="#2a0e10" stroke-width="1.3" fill="none"/>
<path d="M66.8 247.1L67.04 247.1L67.04 247.6L67.67 247.6L67.67 248.89L67.93 248.89L67.93 249.43L68.28 249.43L68.28 250.15L68.54 250.15L68.54 250.82L68.78 250.82L68.78 251.45L69.16 251.45L69.16 252.48L69.68 252.48L69.68 253.99L70.26 253.99L70.26 256.43L70.74 256.43L70.74 258.41L71.33 258.41L71.33 260.7L71.66 260.7L71.66 261.56L71.94 261.56L71.94 262.27L72.51 262.27L72.51 263.75L73.09 263.75L73.09 264.34L73.51 264.34L73.51 264.62L73.79 264.62L73.79 264.82L74.21 264.82L74.21 265.1L74.7 265.1L74.7 265.43L75.1 265.43L75.1 265.7L75.5 265.7L75.5 266.07L76.01 266.07L76.01 266.56L76.59 266.56L76.59 267.12L77.02 267.12L77.02 267.55L77.39 267.55L77.39 267.9L77.63 267.9L77.63 268.14L78.11 268.14L78.11 269.08L78.4 269.08L78.4 269.8L78.76 269.8L78.76 270.69L79 270.69L79 271.16L79.33 271.16L79.33 271.53L79.88 271.53L79.88 272.17L80.22 272.17L80.22 272.56L80.84 272.56L80.84 273.28L81.14 273.28L81.14 273.62L81.61 273.62L81.61 274.24L81.84 274.24L81.84 274.56L82.36 274.56L82.36 275.31L83.02 275.31L83.02 276.25L83.5 276.25L83.5 276.92L83.97 276.92L83.97 277.6L84.42 277.6L84.42 278.23L84.86 278.23L84.86 278.84L85.32 278.84L85.32 279.19L85.77 279.19L85.77 279.53L86.35 279.53L86.35 279.97L86.58 279.97L86.58 280.14L87.14 280.14L87.14 280.57L87.7 280.57L87.7 280.99L88.14 280.99L88.14 281.32L88.8 281.32L88.8 281.43L89.45 281.43L89.75 281.43L90.04 281.43L90.3 281.43L90.68 281.43L91.14 281.43L91.73 281.43L92.31 281.43L92.55 281.43L93.12 281.43L93.49 281.43L93.49 281.45L93.99 281.45L93.99 282.01L94.44 282.01L94.44 282.53L94.76 282.53L94.76 282.9L95.11 282.9L95.11 283.3L95.55 283.3L95.55 283.81L95.8 283.81L95.8 284.09L96.08 284.09L96.08 284.41L96.34 284.41L96.34 284.43L96.9 284.43L96.9 284.45L97.45 284.45L97.45 284.46L97.82 284.46L97.82 284.48L98.05 284.48L98.05 284.48L98.63 284.48L98.63 284.5L98.93 284.5L98.93 284.51L99.2 284.51L99.2 284.52L99.75 284.52L99.75 284.54L100.18 284.54L100.18 284.55L100.61 284.55L100.61 284.56L101.21 284.56L101.21 284.58L101.52 284.58L101.52 284.59L101.97 284.59L101.97 284.61L102.31 284.61L102.31 284.62L102.95 284.62L102.95 284.64L103.28 284.64L103.28 284.65L103.5 284.65L103.5 284.66L103.89 284.66L103.89 284.67L104.15 284.67L104.15 284.68L104.55 284.68L104.55 284.69L104.87 284.69L104.87 284.7L105.18 284.7L105.18 284.71L105.68 284.71L105.68 284.73L105.91 284.73L105.91 284.73L106.26 284.73L106.26 284.74L106.67 284.74L106.67 284.76L106.92 284.76L106.92 284.77L107.3 284.77L107.3 284.78L107.89 284.78L107.89 284.8L108.45 284.8L108.45 284.81L109.08 284.81L109.08 284.83L109.33 284.83L109.33 284.84L109.98 284.84L109.98 284.86L110.28 284.86L110.28 284.87L110.6 284.87L110.6 284.88L111.11 284.88L111.11 284.9L111.6 284.9L111.6 284.92L112.1 284.92L112.1 284.93L112.58 284.93L112.58 284.95L113.19 284.95L113.19 284.97L113.49 284.97L113.49 284.98L113.78 284.98L113.78 284.99L114.34 284.99L114.34 285L114.76 285L114.76 285.02L115.03 285.02L115.03 285.03L115.37 285.03L115.37 285.04L115.56 285.04" stroke="#111" stroke-width="1.35" fill="none"/>
<path d="M78.64 280.24v-1.8M81.08 283.97v-1.8M83.09 287.49v-1.8M84.21 289.22v-1.8M86.24 291.38v-1.8M87.53 292.41v-1.8M91.02 293.41v-1.8M93.95 293.44v-1.8M100.03 293.48v-1.8M105.37 293.51v-1.8M112.86 293.56v-1.8M118.46 293.6v-1.8M126.97 299.13v-1.8M140.56 299.13v-1.8M147.02 299.13v-1.8" stroke="#333" stroke-width="0.6" fill="none"/>
<path d="M78.85 271.59v-1.8M81 274.18v-1.8M83.71 277.82v-1.8M85.55 280.09v-1.8M88.45 282.22v-1.8M89.69 282.33v-1.8M92.97 282.33v-1.8M96.5 285.33v-1.8M99.35 285.42v-1.8M102.04 285.51v-1.8M103.5 285.55v-1.8M106.88 285.66v-1.8M110.9 285.78v-1.8M115.56 285.94v-1.8" stroke="#111" stroke-width="0.6" fill="none"/>
<path d="M91.6 245.5H101.4" stroke="#111" stroke-width="1.25" />
<path d="M91.6 252.6H101.4" stroke="#cc3348" stroke-width="1.2" />
<text x="106.6" y="245.6" dominant-baseline="central" font-size="4.9" fill="#222">46 months ; n= 113</text>
<text x="106.6" y="253" dominant-baseline="central" font-size="4.9" fill="#222">27 months; n= 118</text>
<text x="97.5" y="267.7" dominant-baseline="central" font-size="4.8" font-weight="bold" font-style="italic" fill="#111" stroke="#111" stroke-width="0.2">P = .016</text>
<text x="18.2" y="320.3" dominant-baseline="central" font-size="4.8" font-weight="bold" fill="#111" stroke="#111" stroke-width="0.15">No. at Risk</text>
<path d="M3.1 327.6H13.5" stroke="#333" stroke-width="0.9" />
<path d="M3.1 337.6H13.5" stroke="#cc3348" stroke-width="0.9" />
<g font-size="4.05" fill="#1e1e1e"><text x="18.2" y="327.6" dominant-baseline="central">No New SNP-A</text><text x="18.2" y="332.3" dominant-baseline="central">defect</text><text x="18.2" y="338" dominant-baseline="central">New SNP-A  defect</text></g>
<rect x="56.2" y="323.2" width="111.8" height="19.9" fill="none" stroke="#111" stroke-width="1"/>
<path d="M56.2 333.15H168M74.83 323.2V343.1M93.47 323.2V343.1M112.1 323.2V343.1M130.73 323.2V343.1M149.37 323.2V343.1" stroke="#222" stroke-width="0.8" fill="none"/>
<g font-size="4.2" fill="#1a1a1a" text-anchor="middle"><text x="65.52" y="327.77" dominant-baseline="central">113</text><text x="84.15" y="327.77" dominant-baseline="central">33</text><text x="102.78" y="327.77" dominant-baseline="central">3</text><text x="121.42" y="327.77" dominant-baseline="central">0</text><text x="140.05" y="327.77" dominant-baseline="central">0</text><text x="158.68" y="327.77" dominant-baseline="central">0</text><text x="65.52" y="337.73" dominant-baseline="central">118</text><text x="84.15" y="337.73" dominant-baseline="central">26</text><text x="102.78" y="337.73" dominant-baseline="central">6</text><text x="121.42" y="337.73" dominant-baseline="central">3</text><text x="140.05" y="337.73" dominant-baseline="central">1</text><text x="158.68" y="337.73" dominant-baseline="central">0</text></g>
<text x="218.1" y="254.75" font-size="10.2" font-weight="bold" fill="#111" stroke="#111" stroke-width="0.55">H</text>
<text transform="translate(231.1 283.9) rotate(-90)" text-anchor="middle" dominant-baseline="central" font-size="4.8" font-weight="bold" fill="#222" stroke="#222" stroke-width="0.15">% Event Free</text>
<path d="M246 245.45 V308.9" stroke="#777" stroke-width="0.9" fill="none"/>
<path d="M244.4 307.7H246M244.4 301.5H246M244.4 295.31H246M244.4 289.12H246M244.4 282.92H246M244.4 276.73H246M244.4 270.53H246M244.4 264.33H246M244.4 258.14H246M244.4 251.94H246M244.4 245.75H246" stroke="#555" stroke-width="0.6" fill="none"/>
<g font-size="3.1" font-weight="bold" fill="#333"><text x="243.7" y="307.7" text-anchor="end" dominant-baseline="central">0.0</text><text x="243.7" y="301.5" text-anchor="end" dominant-baseline="central">0.1</text><text x="243.7" y="295.31" text-anchor="end" dominant-baseline="central">0.2</text><text x="243.7" y="289.12" text-anchor="end" dominant-baseline="central">0.3</text><text x="243.7" y="282.92" text-anchor="end" dominant-baseline="central">0.4</text><text x="243.7" y="276.73" text-anchor="end" dominant-baseline="central">0.5</text><text x="243.7" y="270.53" text-anchor="end" dominant-baseline="central">0.6</text><text x="243.7" y="264.33" text-anchor="end" dominant-baseline="central">0.7</text><text x="243.7" y="258.14" text-anchor="end" dominant-baseline="central">0.8</text><text x="243.7" y="251.94" text-anchor="end" dominant-baseline="central">0.9</text><text x="243.7" y="245.75" text-anchor="end" dominant-baseline="central">1.0</text></g>
<path d="M246 307.7 H339.5" stroke="#888" stroke-width="0.9" fill="none"/>
<path d="M246 307.7V308.9M264.6 307.7V308.9M283.2 307.7V308.9M301.8 307.7V308.9M320.4 307.7V308.9M339 307.7V308.9" stroke="#666" stroke-width="0.6" fill="none"/>
<g font-size="3.3" font-weight="bold" fill="#2a2a2a"><text x="246" y="312.1" text-anchor="middle" dominant-baseline="central">0</text><text x="264.6" y="312.1" text-anchor="middle" dominant-baseline="central">50</text><text x="283.2" y="312.1" text-anchor="middle" dominant-baseline="central">100</text><text x="301.8" y="312.1" text-anchor="middle" dominant-baseline="central">150</text><text x="320.4" y="312.1" text-anchor="middle" dominant-baseline="central">200</text><text x="339" y="312.1" text-anchor="middle" dominant-baseline="central">250</text></g>
<text x="294.1" y="318.2" text-anchor="middle" dominant-baseline="central" font-size="4.8" font-weight="bold" fill="#222" stroke="#222" stroke-width="0.15">EFS (months)</text>
<path d="M246 245.75L246.65 245.75L246.65 248.7L246.98 248.7L246.98 250.19L247.32 250.19L247.32 251.7L247.65 251.7L247.65 253.22L248.03 253.22L248.03 254.69L248.37 254.69L248.37 256L248.74 256L248.74 257.41L249.3 257.41L249.3 259.57L249.72 259.57L249.72 260.98L250.2 260.98L250.2 262.45L250.74 262.45L250.74 264.1L251.06 264.1L251.06 265.06L251.32 265.06L251.32 266.21L251.9 266.21L251.9 268.96L252.25 268.96L252.25 270.08L252.51 270.08L252.51 270.9L252.99 270.9L252.99 272.3L253.59 272.3L253.59 273.62L254.2 273.62L254.2 274.94L254.46 274.94L254.46 275.5L254.79 275.5L254.79 276.37L255.15 276.37L255.15 277.39L255.76 277.39L255.76 278.9L256.05 278.9L256.05 279.49L256.49 279.49L256.49 280.38L256.96 280.38L256.96 281.32L257.61 281.32L257.61 282.35L258.22 282.35L258.22 283.14L258.71 283.14L258.71 283.78L259.23 283.78L259.23 284.46L259.62 284.46L259.62 284.98L260.1 284.98L260.1 285.63L260.63 285.63L260.63 286.34L261.03 286.34L261.03 286.9L261.62 286.9L261.62 287.69L261.84 287.69L261.84 288L262.51 288L262.51 288.69L263.08 288.69L263.08 288.88L263.36 288.88L263.36 288.98L263.6 288.98L263.6 289.06L263.97 289.06L263.97 289.18L264.4 289.18L264.4 289.32L264.84 289.32L264.84 289.47L265.23 289.47L265.23 289.83L265.79 289.83L265.79 290.39L266.29 290.39L266.29 290.9L266.91 290.9L266.91 291.47L267.44 291.47L267.44 291.92L267.79 291.92L267.79 292.21L268.1 292.21L268.1 292.46L268.66 292.46L268.66 292.93L269.23 292.93L269.23 293.4L269.84 293.4L269.84 293.62L270.33 293.62L270.33 293.8L270.69 293.8L270.69 293.94L270.97 293.94L270.97 294.04L271.31 294.04L271.31 294.17L271.74 294.17L271.74 294.33L272.33 294.33L272.33 294.55L272.77 294.55L272.77 294.71L273.09 294.71L273.09 294.78L273.54 294.78L273.54 294.89L273.92 294.89L273.92 294.98L274.32 294.98L274.32 295.07L274.63 295.07L274.63 295.15L275.28 295.15L275.28 295.3L275.95 295.3L275.95 295.46L276.21 295.46L276.21 295.63L276.58 295.63L276.58 296.07L277.08 296.07L277.08 296.43L277.52 296.43L278 296.43L278.56 296.43L279.01 296.43L279.53 296.43L279.85 296.43L280.34 296.43L281 296.43L281.63 296.43L282.18 296.43L282.47 296.43L282.95 296.43L283.44 296.43L283.69 296.43L284.04 296.43L284.55 296.43L285.15 296.43L285.8 296.43L286.23 296.43L286.64 296.43L287.12 296.43L287.52 296.43L287.84 296.43L288.23 296.43L288.58 296.43L289.1 296.43L289.44 296.43L289.91 296.43L290.54 296.43L290.96 296.43L291.35 296.43L291.99 296.43L292.44 296.43L292.87 296.43L293.19 296.43L293.51 296.43L294 296.43L294.53 296.43L294.88 296.43L295.31 296.43L295.58 296.43L296.1 296.43L296.46 296.43L296.85 296.43L297.35 296.43L297.79 296.43L298.38 296.43L299 296.43L299.63 296.43L299.87 296.43L300.45 296.43L300.96 296.43L301.22 296.43L301.78 296.43L302.01 296.43L302.52 296.43L302.93 296.43L303.22 296.43L303.71 296.43L304.1 296.43L304.72 296.43L305.15 296.43L305.15 296.84L305.65 296.84L305.65 299.61L306.31 299.61L306.31 300.14L306.65 300.14L307.14 300.14L307.7 300.14L308.37 300.14L308.97 300.14L309.21 300.14L309.56 300.14L310.09 300.14L310.39 300.14L311 300.14L311.67 300.14L312.09 300.14L312.72 300.14L313.1 300.14L313.72 300.14L314.25 300.14L314.69 300.14L315.13 300.14L315.72 300.14L316.24 300.14L316.74 300.14L317.04 300.14L317.28 300.14L317.95 300.14L318.36 300.14L318.92 300.14L319.23 300.14L319.5 300.14L319.82 300.14L320.17 300.14L320.65 300.14L321.13 300.14L321.54 300.14L321.82 300.14L322.05 300.14L322.65 300.14L323.24 300.14L323.58 300.14L324.09 300.14L324.42 300.14L324.85 300.14L325.33 300.14L325.97 300.14L325.98 300.14" stroke="#cc3348" stroke-width="1.1" fill="none"/>
<path d="M246 245.75L246.65 245.75L246.65 248.7L246.98 248.7L246.98 250.19L247.32 250.19L247.32 251.7L247.65 251.7L247.65 253.22L248.03 253.22L248.03 254.69L248.37 254.69L248.37 256L248.74 256L248.74 257.41L249.3 257.41L249.3 259.57L249.72 259.57L249.72 260.98L250.2 260.98L250.2 262.45L250.74 262.45L250.74 264.1L251.06 264.1L251.06 265.06L251.32 265.06L251.32 266.21L251.9 266.21L251.9 268.96L252.25 268.96L252.25 270.08L252.51 270.08L252.51 270.9L252.99 270.9L252.99 272.3L253.59 272.3L253.59 273.62L254.2 273.62L254.2 274.94L254.46 274.94L254.46 275.5L254.79 275.5L254.79 276.37L255.15 276.37L255.15 277.39L255.76 277.39L255.76 278.9L256.05 278.9L256.05 279.49L256.49 279.49L256.49 280.38L256.96 280.38L256.96 281.32L257.61 281.32L257.61 282.35L258.22 282.35L258.22 283.14L258.71 283.14L258.71 283.78L259.23 283.78L259.23 284.46L259.62 284.46L259.62 284.98L260.1 284.98L260.1 285.63L260.63 285.63L260.63 286.34L261.03 286.34L261.03 286.9L261.62 286.9L261.62 287.69L261.84 287.69L261.84 288L262.51 288L262.51 288.69L263.08 288.69L263.08 288.88L263.36 288.88L263.36 288.98L263.6 288.98L263.6 289.06L263.97 289.06L263.97 289.18L264.4 289.18L264.4 289.32L264.84 289.32L264.84 289.47L265.23 289.47L265.23 289.83L265.79 289.83L265.79 290.39L266.29 290.39L266.29 290.9L266.91 290.9L266.91 291.47L267.44 291.47L267.44 291.92L267.79 291.92L267.79 292.21L268.1 292.21L268.1 292.46L268.66 292.46L268.66 292.93" stroke="#4a1a20" stroke-width="1.3" fill="none"/>
<path d="M246 245.75L246.36 245.75L246.36 247.37L246.63 247.37L246.63 248.6L247.28 248.6L247.28 251.52L247.65 251.52L247.65 253.24L247.97 253.24L247.97 254.48L248.6 254.48L248.6 256.88L248.84 256.88L248.84 257.82L249.4 257.82L249.4 259.93L249.78 259.93L249.78 261.16L250.09 261.16L250.09 262.1L250.46 262.1L250.46 263.23L250.79 263.23L250.79 264.25L251.3 264.25L251.3 265.67L251.89 265.67L251.89 266.73L252.32 266.73L252.32 267.5L252.63 267.5L252.63 268.04L252.96 268.04L252.96 268.64L253.4 268.64L253.4 269.39L253.69 269.39L253.69 269.76L254.23 269.76L254.23 270.48L254.51 270.48L254.51 270.85L254.94 270.85L254.94 271.41L255.43 271.41L255.43 272.05L255.86 272.05L255.86 272.61L256.2 272.61L256.2 273.05L256.83 273.05L256.83 273.67L257.28 273.67L257.28 274.09L257.89 274.09L257.89 274.73L258.19 274.73L258.19 275.06L258.8 275.06L258.8 275.7L259.45 275.7L259.45 276.39L259.79 276.39L259.79 276.78L260.33 276.78L260.33 277.8L260.92 277.8L260.92 278.8L261.56 278.8L261.56 279.8L262.05 279.8L262.05 280.56L262.52 280.56L262.52 281.51L263.09 281.51L263.09 283.19L263.51 283.19L263.51 283.9L263.76 283.9L263.76 284.22L264.06 284.22L264.06 284.62L264.3 284.62L264.3 284.93L264.58 284.93L264.58 285.3L265.08 285.3L265.08 285.96L265.68 285.96L265.68 286.74L266.06 286.74L266.06 287.16L266.3 287.16L266.3 287.4L266.6 287.4L266.6 287.69L266.9 287.69L266.9 287.99L267.47 287.99L267.47 288.56L267.72 288.56L267.72 288.81L268.11 288.81L268.11 289.2L268.71 289.2L268.71 289.73L269.22 289.73L269.22 290.12L269.65 290.12L269.65 290.44L269.89 290.44L269.89 290.62L270.43 290.62L270.43 291.04L270.73 291.04L270.73 291.26L271.35 291.26L271.35 291.73L271.78 291.73L271.78 292.06L272.23 292.06L272.23 292.21L272.76 292.21L272.76 292.38L273.05 292.38L273.05 292.46L273.51 292.46L273.51 292.6L273.87 292.6L273.87 292.71L274.13 292.71L274.13 292.79L274.45 292.79L274.45 292.89L275.08 292.89L275.08 293.08L275.73 293.08L275.73 293.28L276.12 293.28L276.12 293.39L276.42 293.39L276.42 293.41L276.97 293.41L276.97 293.43L277.29 293.43L277.29 293.45L277.81 293.45L277.81 293.48L278.05 293.48L278.05 293.49L278.28 293.49L278.28 293.5L278.55 293.5L278.55 293.51L278.79 293.51L278.79 293.53L279.36 293.53L279.36 293.55L280 293.55L280 293.59L280.3 293.59L280.3 293.6L280.67 293.6L280.67 293.62L281.22 293.62L281.22 293.65L281.65 293.65L281.65 293.67L282.17 293.67L282.17 293.7L282.82 293.7L282.82 293.73L283.07 293.73L283.07 293.74L283.65 293.74L283.65 293.77L284.16 293.77L284.16 293.8L284.58 293.8L284.58 293.82L285.02 293.82L285.02 293.84L285.54 293.84L285.54 293.86L285.88 293.86L285.88 293.88L286.4 293.88L286.4 293.91L286.73 293.91L286.73 293.92L287.28 293.92L287.28 293.95L287.91 293.95L287.91 293.98L288.33 293.98L288.33 294.01L288.83 294.01L288.83 294.03L289.15 294.03L289.15 294.05L289.51 294.05L289.51 294.06L289.64 294.06" stroke="#111" stroke-width="1.35" fill="none"/>
<path d="M257.41 282.22v-1.8M260.64 287.24v-1.8M263.77 289.96v-1.8M264.99 290.37v-1.8M269.16 293.83v-1.8M272.36 295.45v-1.8M275.1 296.05v-1.8M280.99 297.33v-1.8M288.47 297.33v-1.8M291.16 297.33v-1.8M295.08 297.33v-1.8M300.01 297.33v-1.8M306.45 301.04v-1.8M315.34 301.04v-1.8M325.98 301.04v-1.8" stroke="#333" stroke-width="0.6" fill="none"/>
<path d="M258.37 275.96v-1.8M261.61 280.7v-1.8M264.96 286.2v-1.8M266.85 288.59v-1.8M268.21 290.1v-1.8M270.26 291.52v-1.8M271.61 292.63v-1.8M274.96 293.79v-1.8M276.79 294.31v-1.8M278.09 294.39v-1.8M279.49 294.45v-1.8M283.31 294.64v-1.8M285.65 294.76v-1.8M289.64 294.96v-1.8" stroke="#111" stroke-width="0.6" fill="none"/>
<path d="M267.3 246.7H277.3" stroke="#111" stroke-width="1.25" />
<path d="M267.3 253.6H277.3" stroke="#cc3348" stroke-width="1.2" />
<text x="280.8" y="246.8" dominant-baseline="central" font-size="4.9" fill="#222">35 months ; n= 113</text>
<text x="280.8" y="254" dominant-baseline="central" font-size="4.9" fill="#222">24 months; n= 118</text>
<text x="272.1" y="267.7" dominant-baseline="central" font-size="4.8" font-weight="bold" font-style="italic" fill="#111" stroke="#111" stroke-width="0.2">P = .33</text>
<text x="188.7" y="320.8" dominant-baseline="central" font-size="4.8" font-weight="bold" fill="#111" stroke="#111" stroke-width="0.15">No. at Risk</text>
<path d="M174.3 328.4H184.2" stroke="#333" stroke-width="0.9" />
<path d="M174.3 338.3H184.2" stroke="#cc3348" stroke-width="0.9" />
<g font-size="4.05" fill="#1e1e1e"><text x="188.7" y="328.8" dominant-baseline="central">No New SNP-A</text><text x="188.7" y="333.5" dominant-baseline="central">defect</text><text x="188.7" y="338.7" dominant-baseline="central">New SNP-A  defect</text></g>
<rect x="231.9" y="325" width="111.1" height="19" fill="none" stroke="#111" stroke-width="1"/>
<path d="M231.9 334.5H343M250.42 325V344M268.93 325V344M287.45 325V344M305.97 325V344M324.48 325V344" stroke="#222" stroke-width="0.8" fill="none"/>
<g font-size="4.2" fill="#1a1a1a" text-anchor="middle"><text x="241.16" y="329.35" dominant-baseline="central">113</text><text x="259.68" y="329.35" dominant-baseline="central">23</text><text x="278.19" y="329.35" dominant-baseline="central">2</text><text x="296.71" y="329.35" dominant-baseline="central">0</text><text x="315.23" y="329.35" dominant-baseline="central">0</text><text x="333.74" y="329.35" dominant-baseline="central">0</text><text x="241.16" y="338.85" dominant-baseline="central">118</text><text x="259.68" y="338.85" dominant-baseline="central">23</text><text x="278.19" y="338.85" dominant-baseline="central">5</text><text x="296.71" y="338.85" dominant-baseline="central">3</text><text x="315.23" y="338.85" dominant-baseline="central">1</text><text x="333.74" y="338.85" dominant-baseline="central">0</text></g>
<text x="383.1" y="254.75" font-size="10.2" font-weight="bold" fill="#111" stroke="#111" stroke-width="0.55">I</text>
<text transform="translate(400.6 279) rotate(-90)" text-anchor="middle" dominant-baseline="central" font-size="4.8" font-weight="bold" fill="#222" stroke="#222" stroke-width="0.15">% Progression Free</text>
<path d="M413.1 245.45 V308.7" stroke="#777" stroke-width="0.9" fill="none"/>
<path d="M411.5 307.5H413.1M411.5 301.32H413.1M411.5 295.15H413.1M411.5 288.98H413.1M411.5 282.8H413.1M411.5 276.62H413.1M411.5 270.45H413.1M411.5 264.27H413.1M411.5 258.1H413.1M411.5 251.93H413.1M411.5 245.75H413.1" stroke="#555" stroke-width="0.6" fill="none"/>
<g font-size="3.1" font-weight="bold" fill="#333"><text x="410.8" y="307.5" text-anchor="end" dominant-baseline="central">0.0</text><text x="410.8" y="301.32" text-anchor="end" dominant-baseline="central">0.1</text><text x="410.8" y="295.15" text-anchor="end" dominant-baseline="central">0.2</text><text x="410.8" y="288.98" text-anchor="end" dominant-baseline="central">0.3</text><text x="410.8" y="282.8" text-anchor="end" dominant-baseline="central">0.4</text><text x="410.8" y="276.62" text-anchor="end" dominant-baseline="central">0.5</text><text x="410.8" y="270.45" text-anchor="end" dominant-baseline="central">0.6</text><text x="410.8" y="264.27" text-anchor="end" dominant-baseline="central">0.7</text><text x="410.8" y="258.1" text-anchor="end" dominant-baseline="central">0.8</text><text x="410.8" y="251.93" text-anchor="end" dominant-baseline="central">0.9</text><text x="410.8" y="245.75" text-anchor="end" dominant-baseline="central">1.0</text></g>
<path d="M413.1 307.5 H506.6" stroke="#888" stroke-width="0.9" fill="none"/>
<path d="M413.1 307.5V308.7M431.7 307.5V308.7M450.3 307.5V308.7M468.9 307.5V308.7M487.5 307.5V308.7M506.1 307.5V308.7" stroke="#666" stroke-width="0.6" fill="none"/>
<g font-size="3.3" font-weight="bold" fill="#2a2a2a"><text x="413.1" y="311.9" text-anchor="middle" dominant-baseline="central">0</text><text x="431.7" y="311.9" text-anchor="middle" dominant-baseline="central">50</text><text x="450.3" y="311.9" text-anchor="middle" dominant-baseline="central">100</text><text x="468.9" y="311.9" text-anchor="middle" dominant-baseline="central">150</text><text x="487.5" y="311.9" text-anchor="middle" dominant-baseline="central">200</text><text x="506.1" y="311.9" text-anchor="middle" dominant-baseline="central">250</text></g>
<text x="461.2" y="318.2" text-anchor="middle" dominant-baseline="central" font-size="4.8" font-weight="bold" fill="#222" stroke="#222" stroke-width="0.15">PFS (months)</text>
<path d="M413.1 245.75L413.66 245.75L413.66 248.02L413.98 248.02L413.98 249.35L414.32 249.35L414.32 250.71L414.67 250.71L414.67 252.12L415.07 252.12L415.07 253.75L415.51 253.75L415.51 255.52L416.05 255.52L416.05 257.69L416.38 257.69L416.38 259L417 259L417 261.19L417.4 261.19L417.4 262.38L417.8 262.38L417.8 263.55L418.11 263.55L418.11 264.47L418.59 264.47L418.59 266.28L419.11 266.28L419.11 268.69L419.43 268.69L419.43 269.57L419.96 269.57L419.96 271.09L420.42 271.09L420.42 272.38L420.78 272.38L420.78 273.29L421.14 273.29L421.14 274.11L421.41 274.11L421.41 274.7L421.97 274.7L421.97 275.97L422.64 275.97L422.64 277.64L423.18 277.64L423.18 279.12L423.51 279.12L423.51 279.23L423.88 279.23L423.88 279.24L424.43 279.24L424.43 279.26L424.69 279.26L424.69 279.27L425.18 279.27L425.18 279.86L425.69 279.86L425.69 280.91L426.15 280.91L426.15 281.24L426.46 281.24L426.46 281.44L426.72 281.44L426.72 281.62L426.95 281.62L426.95 281.77L427.57 281.77L427.57 283.27L428.16 283.27L428.16 284.8L428.56 284.8L428.56 285.46L428.95 285.46L428.95 285.85L429.45 285.85L429.45 286.35L429.89 286.35L429.89 286.8L430.24 286.8L430.24 287.15L430.74 287.15L430.74 287.66L431.13 287.66L431.13 287.97L431.7 287.97L431.7 288.34L432.19 288.34L432.19 288.67L432.53 288.67L432.53 288.9L432.99 288.9L432.99 289.2L433.47 289.2L433.47 289.52L433.93 289.52L433.93 289.64L434.5 289.64L434.5 289.79L435.01 289.79L435.01 289.91L435.4 289.91L435.4 290.02L436.04 290.02L436.04 290.18L436.3 290.18L436.3 290.24L436.71 290.24L436.71 290.35L437.26 290.35L437.26 290.48L437.52 290.48L437.52 290.54L437.77 290.54L437.77 290.59L438.4 290.59L438.4 290.74L438.74 290.74L438.74 290.82L439.1 290.82L439.1 290.9L439.65 290.9L439.65 291.02L440.14 291.02L440.14 291.14L440.46 291.14L440.46 291.21L441.09 291.21L441.09 291.39L441.4 291.39L441.4 291.47L441.62 291.47L441.62 291.53L441.98 291.53L441.98 291.63L442.32 291.63L442.32 291.72L442.69 291.72L442.69 291.82L443.17 291.82L443.17 291.96L443.66 291.96L443.66 292.09L444.14 292.09L444.14 292.12L444.75 292.12L445.08 292.12L445.44 292.12L445.81 292.12L446.47 292.12L446.78 292.12L447.14 292.12L447.8 292.12L448.02 292.12L448.6 292.12L449.24 292.12L449.68 292.12L450.03 292.12L450.27 292.12L450.78 292.12L451.4 292.12L451.72 292.12L452.03 292.12L452.39 292.12L452.95 292.12L453.3 292.12L453.86 292.12L454.31 292.12L454.97 292.12L455.41 292.12L455.97 292.12L456.49 292.12L456.93 292.12L457.34 292.12L457.88 292.12L458.52 292.12L459.12 292.12L459.54 292.12L460.04 292.12L460.48 292.12L460.82 292.12L461.38 292.12L461.83 292.12L462.07 292.12L462.61 292.12L463.07 292.12L463.67 292.12L464.08 292.12L464.3 292.12L464.68 292.12L465.21 292.12L465.66 292.12L465.98 292.12L466.31 292.12L466.67 292.12L466.91 292.12L467.55 292.12L467.89 292.12L468.54 292.12L468.86 292.12L469.52 292.12L470.12 292.12L470.36 292.12L471 292.12L471.53 292.12L472.08 292.12L472.43 292.12L472.84 292.12L472.84 293.11L473.22 293.11L473.22 296.64L473.5 296.64L473.5 297.93L473.89 297.93L474.16 297.93L474.68 297.93L475.04 297.93L475.67 297.93L476.32 297.93L476.65 297.93L476.92 297.93L477.42 297.93L477.85 297.93L478.38 297.93L478.67 297.93L479.13 297.93L479.48 297.93L480.15 297.93L480.65 297.93L481.06 297.93L481.5 297.93L482.17 297.93L482.63 297.93L483.15 297.93L483.71 297.93L484.19 297.93L484.57 297.93L484.94 297.93L485.37 297.93L485.91 297.93L486.24 297.93L486.6 297.93L486.92 297.93L487.26 297.93L487.66 297.93L487.93 297.93L488.57 297.93L489.21 297.93L489.84 297.93L490.31 297.93L490.71 297.93L491.02 297.93L491.29 297.93L491.76 297.93L492.11 297.93L492.71 297.93" stroke="#cc3348" stroke-width="1.1" fill="none"/>
<path d="M413.1 245.75L413.66 245.75L413.66 248.02L413.98 248.02L413.98 249.35L414.32 249.35L414.32 250.71L414.67 250.71L414.67 252.12L415.07 252.12L415.07 253.75L415.51 253.75L415.51 255.52L416.05 255.52L416.05 257.69L416.38 257.69L416.38 259L417 259L417 261.19L417.4 261.19L417.4 262.38L417.8 262.38L417.8 263.55L418.11 263.55L418.11 264.47L418.59 264.47L418.59 266.28L419.11 266.28L419.11 268.69L419.43 268.69L419.43 269.57L419.96 269.57L419.96 271.09L420.42 271.09L420.42 272.38L420.78 272.38L420.78 273.29L421.14 273.29L421.14 274.11L421.41 274.11L421.41 274.7L421.97 274.7L421.97 275.97L422.64 275.97L422.64 277.64L423.18 277.64L423.18 279.12L423.51 279.12L423.51 279.23L423.88 279.23L423.88 279.24L424.43 279.24L424.43 279.26L424.69 279.26L424.69 279.27L425.18 279.27L425.18 279.86L425.69 279.86L425.69 280.91L426.15 280.91L426.15 281.24L426.46 281.24L426.46 281.44L426.72 281.44L426.72 281.62L426.95 281.62L426.95 281.77L427.57 281.77L427.57 283.27L428.16 283.27L428.16 284.8L428.56 284.8L428.56 285.46L428.95 285.46L428.95 285.85L429.45 285.85L429.45 286.35L429.89 286.35L429.89 286.8L430.24 286.8L430.24 287.15L430.74 287.15L430.74 287.66L431.13 287.66L431.13 287.97L431.7 287.97L431.7 288.34L432.19 288.34L432.19 288.67L432.53 288.67L432.53 288.9L432.99 288.9L432.99 289.2L433.47 289.2L433.47 289.52L433.93 289.52L433.93 289.64L434.5 289.64L434.5 289.79L435.01 289.79L435.01 289.91L435.4 289.91L435.4 290.02" stroke="#4a1a20" stroke-width="1.3" fill="none"/>
<path d="M413.1 245.75L413.43 245.75L413.43 247.1L413.7 247.1L413.7 248.18L414.05 248.18L414.05 249.6L414.64 249.6L414.64 252L414.96 252L414.96 253.33L415.53 253.33L415.53 255.59L415.91 255.59L415.91 257.12L416.33 257.12L416.33 258.82L416.87 258.82L416.87 260.8L417.12 260.8L417.12 261.55L417.73 261.55L417.73 263.35L418.23 263.35L418.23 264.84L418.57 264.84L418.57 265.72L418.87 265.72L418.87 266.29L419.32 266.29L419.32 267.11L419.9 267.11L419.9 268.2L420.54 268.2L420.54 269.38L420.8 269.38L420.8 269.75L421.18 269.75L421.18 270.21L421.82 270.21L421.82 271L422.16 271L422.16 271.42L422.72 271.42L422.72 272.1L423.22 272.1L423.22 272.71L423.76 272.71L423.76 273.36L424.27 273.36L424.27 273.96L424.54 273.96L424.54 274.26L425.21 274.26L425.21 274.98L425.79 274.98L425.79 275.62L426.39 275.62L426.39 276.28L426.92 276.28L426.92 276.86L427.55 276.86L427.55 277.6L428 277.6L428 278.56L428.27 278.56L428.27 279.12L428.62 279.12L428.62 279.66L428.97 279.66L428.97 280.16L429.63 280.16L429.63 281.12L429.94 281.12L429.94 281.58L430.18 281.58L430.18 281.98L430.8 281.98L430.8 283.24L431.39 283.24L431.39 284.42L431.88 284.42L431.88 285.31L432.27 285.31L432.27 285.7L432.58 285.7L432.58 286L433.03 286L433.03 286.46L433.6 286.46L433.6 287.02L434.19 287.02L434.19 287.6L434.44 287.6L434.44 287.86L434.89 287.86L434.89 288.3L435.13 288.3L435.13 288.54L435.77 288.54L435.77 288.73L436.33 288.73L436.33 288.85L436.58 288.85L436.58 288.9L437.23 288.9L437.23 289.04L437.53 289.04L437.53 289.11L438.04 289.11L438.04 289.21L438.42 289.21L438.42 289.3L438.67 289.3L438.67 289.35L439.19 289.35L439.19 289.46L439.76 289.46L439.76 289.72L440.05 289.72L440.05 289.96L440.69 289.96L440.69 290.46L441.13 290.46L441.13 290.82L441.37 290.82L441.37 291L441.67 291L441.67 291.24L441.9 291.24L441.9 291.42L442.55 291.42L442.55 291.94L442.94 291.94L442.94 292.25L443.25 292.25L443.25 292.5L443.48 292.5L443.48 292.68L443.97 292.68L443.97 292.93L444.28 292.93L444.28 292.94L444.67 292.94L444.67 292.95L445.09 292.95L445.09 292.96L445.43 292.96L445.43 292.97L445.95 292.97L445.95 292.99L446.41 292.99L446.41 293L446.79 293L446.79 293.01L447.44 293.01L447.44 293.03L447.88 293.03L447.88 293.04L448.39 293.04L448.39 293.05L448.67 293.05L448.67 293.06L449.06 293.06L449.06 293.07L449.7 293.07L449.7 293.09L450.37 293.09L450.37 293.11L450.69 293.11L450.69 293.12L451.32 293.12L451.32 293.13L451.7 293.13L451.7 293.14L452.24 293.14L452.24 293.16L452.66 293.16L452.66 293.17L453.25 293.17L453.25 293.19L453.73 293.19L453.73 293.2L453.98 293.2L453.98 293.21L454.61 293.21L454.61 293.22L454.95 293.22L454.95 293.23L455.51 293.23L455.51 293.25L456.01 293.25L456.01 293.26L456.43 293.26L456.43 293.27L456.69 293.27L456.69 293.28L457.29 293.28" stroke="#111" stroke-width="1.35" fill="none"/>
<path d="M424.37 280.14v-1.8M426.12 281.81v-1.8M429.1 286.75v-1.8M431.63 288.87v-1.8M432.65 289.8v-1.8M436.25 291.08v-1.8M439.73 291.92v-1.8M445.45 293.02v-1.8M452.13 293.02v-1.8M455.64 293.02v-1.8M459.09 293.02v-1.8M461.98 293.02v-1.8M469.69 293.02v-1.8M477.64 298.83v-1.8M488.39 298.83v-1.8M492.71 298.83v-1.8" stroke="#333" stroke-width="0.6" fill="none"/>
<path d="M424.6 275.16v-1.8M425.37 275.88v-1.8M426.81 277.18v-1.8M428.44 280.02v-1.8M431.72 285.32v-1.8M433.34 287.36v-1.8M434.59 288.76v-1.8M435.65 289.44v-1.8M438.73 290.25v-1.8M439.8 290.62v-1.8M443.32 293.4v-1.8M444.98 293.85v-1.8M448.36 293.94v-1.8M451.2 294.02v-1.8M452.18 294.04v-1.8M454.19 294.11v-1.8M457.29 294.18v-1.8" stroke="#111" stroke-width="0.6" fill="none"/>
<path d="M437.3 246.3H447.3" stroke="#111" stroke-width="1.25" />
<path d="M437.3 253.4H447.3" stroke="#cc3348" stroke-width="1.2" />
<text x="452.5" y="246.4" dominant-baseline="central" font-size="4.9" fill="#222">35 months ; n= 113</text>
<text x="452.5" y="253.8" dominant-baseline="central" font-size="4.9" fill="#222">24 months; n= 118</text>
<text x="443.9" y="268.1" dominant-baseline="central" font-size="4.8" font-weight="bold" font-style="italic" fill="#111" stroke="#111" stroke-width="0.2">P = .51</text>
<text x="363.9" y="320.3" dominant-baseline="central" font-size="4.8" font-weight="bold" fill="#111" stroke="#111" stroke-width="0.15">No. at Risk</text>
<path d="M349.5 328.4H359.4" stroke="#333" stroke-width="0.9" />
<path d="M349.5 338H359.4" stroke="#cc3348" stroke-width="0.9" />
<g font-size="4.05" fill="#1e1e1e"><text x="363.9" y="328.3" dominant-baseline="central">No New SNP-A</text><text x="363.9" y="333.2" dominant-baseline="central">defect</text><text x="363.9" y="338.4" dominant-baseline="central">New SNP-A  defect</text></g>
<rect x="402.3" y="325.8" width="110" height="18.7" fill="none" stroke="#111" stroke-width="1"/>
<path d="M402.3 335.15H512.3M420.63 325.8V344.5M438.97 325.8V344.5M457.3 325.8V344.5M475.63 325.8V344.5M493.97 325.8V344.5" stroke="#222" stroke-width="0.8" fill="none"/>
<g font-size="4.2" fill="#1a1a1a" text-anchor="middle"><text x="411.47" y="330.08" dominant-baseline="central">113</text><text x="429.8" y="330.08" dominant-baseline="central">24</text><text x="448.13" y="330.08" dominant-baseline="central">2</text><text x="466.47" y="330.08" dominant-baseline="central">0</text><text x="484.8" y="330.08" dominant-baseline="central">0</text><text x="503.13" y="330.08" dominant-baseline="central">0</text><text x="411.47" y="339.43" dominant-baseline="central">118</text><text x="429.8" y="339.43" dominant-baseline="central">22</text><text x="448.13" y="339.43" dominant-baseline="central">5</text><text x="466.47" y="339.43" dominant-baseline="central">3</text><text x="484.8" y="339.43" dominant-baseline="central">1</text><text x="503.13" y="339.43" dominant-baseline="central">0</text></g>
<text x="44" y="371.5" font-size="10.2" font-weight="bold" fill="#111" stroke="#111" stroke-width="0.55">J</text>
<text transform="translate(56.2 397) rotate(-90)" text-anchor="middle" dominant-baseline="central" font-size="4.8" font-weight="bold" fill="#222" stroke="#222" stroke-width="0.15">% Survival</text>
<path d="M67.1 360.7 V424.9" stroke="#777" stroke-width="0.9" fill="none"/>
<path d="M65.5 423.7H67.1M65.5 417.43H67.1M65.5 411.16H67.1M65.5 404.89H67.1M65.5 398.62H67.1M65.5 392.35H67.1M65.5 386.08H67.1M65.5 379.81H67.1M65.5 373.54H67.1M65.5 367.27H67.1M65.5 361H67.1" stroke="#555" stroke-width="0.6" fill="none"/>
<g font-size="3.1" font-weight="bold" fill="#333"><text x="64.8" y="423.7" text-anchor="end" dominant-baseline="central">0.0</text><text x="64.8" y="417.43" text-anchor="end" dominant-baseline="central">0.1</text><text x="64.8" y="411.16" text-anchor="end" dominant-baseline="central">0.2</text><text x="64.8" y="404.89" text-anchor="end" dominant-baseline="central">0.3</text><text x="64.8" y="398.62" text-anchor="end" dominant-baseline="central">0.4</text><text x="64.8" y="392.35" text-anchor="end" dominant-baseline="central">0.5</text><text x="64.8" y="386.08" text-anchor="end" dominant-baseline="central">0.6</text><text x="64.8" y="379.81" text-anchor="end" dominant-baseline="central">0.7</text><text x="64.8" y="373.54" text-anchor="end" dominant-baseline="central">0.8</text><text x="64.8" y="367.27" text-anchor="end" dominant-baseline="central">0.9</text><text x="64.8" y="361" text-anchor="end" dominant-baseline="central">1.0</text></g>
<path d="M67.1 423.7 H160.5" stroke="#888" stroke-width="0.9" fill="none"/>
<path d="M67.1 423.7V424.9M85.68 423.7V424.9M104.26 423.7V424.9M122.84 423.7V424.9M141.42 423.7V424.9M160 423.7V424.9" stroke="#666" stroke-width="0.6" fill="none"/>
<g font-size="3.3" font-weight="bold" fill="#2a2a2a"><text x="67.1" y="428.1" text-anchor="middle" dominant-baseline="central">0</text><text x="85.68" y="428.1" text-anchor="middle" dominant-baseline="central">40</text><text x="104.26" y="428.1" text-anchor="middle" dominant-baseline="central">80</text><text x="122.84" y="428.1" text-anchor="middle" dominant-baseline="central">120</text><text x="141.42" y="428.1" text-anchor="middle" dominant-baseline="central">160</text><text x="160" y="428.1" text-anchor="middle" dominant-baseline="central">200</text></g>
<text x="116.1" y="434.7" text-anchor="middle" dominant-baseline="central" font-size="4.8" font-weight="bold" fill="#222" stroke="#222" stroke-width="0.15">OS (months)</text>
<path d="M67.1 361L67.95 361L67.95 365.37L68.91 365.37L68.91 376.38L69.82 376.38L69.82 382.94L70.88 382.94L70.88 388.59L71.9 388.59L71.9 392.73L73.1 392.73L73.1 396.77L74.41 396.77L74.41 400.29L75.46 400.29L75.46 403.14L76.65 403.14L76.65 406.35L77.96 406.35L77.96 409.48L79.1 409.48L79.1 411.95L80.6 411.95L80.6 412.46L81.79 412.46L81.79 412.6L83.23 412.6L83.86 412.6L84.73 412.6L85.61 412.6L86.53 412.6L87.11 412.6L88.31 412.6L89.58 412.6L91.08 412.6L92 412.6L93.35 412.6L94.69 412.6L95.79 412.6L96.58 412.6L97.28 412.6L98.62 412.6L99.25 412.6L100.59 412.6L101.6 412.6L102.17 412.6L103.04 412.6L104.11 412.6L105.42 412.6L106.32 412.6L107.55 412.6L108.92 412.6L110 412.6L110.67 412.6L111.48 412.6L112.76 412.6L113.78 412.6L114.88 412.6L116.28 412.6L117.25 412.6L118.33 412.6V423.7" stroke="#cc3348" stroke-width="1.1" fill="none"/>
<path d="M67.1 361L67.68 361L67.68 362.64L68.38 362.64L68.38 364.64L68.97 364.64L68.97 367L70.03 367L70.03 375.53L70.77 375.53L70.77 380.16L71.72 380.16L71.72 385L73.18 385L73.18 390.01L74.23 390.01L74.23 392.16L74.77 392.16L74.77 393.34L75.61 393.34L75.61 395.53L76.68 395.53L76.68 398.29L77.3 398.29L77.3 400.88L78.65 400.88L78.65 406.58L79.59 406.58L79.59 409.41L80.46 409.41L80.46 410.49L81.4 410.49L81.4 411.44L82.16 411.44L82.16 411.95L83.08 411.95L83.08 412.05L84.32 412.05L84.32 412.19L85.56 412.19L85.56 412.33L86.82 412.33L86.82 412.47L88.25 412.47L88.25 412.6L88.61 412.6V423.7" stroke="#111" stroke-width="1.35" fill="none"/>
<path d="M89.21 413.5v-1.8M98.92 413.5v-1.8" stroke="#333" stroke-width="0.6" fill="none"/>
<path d="M84.1 412.95v-1.8" stroke="#111" stroke-width="0.6" fill="none"/>
<path d="M93.7 362.6H103.7" stroke="#111" stroke-width="1.25" />
<path d="M93.7 369.8H103.7" stroke="#cc3348" stroke-width="1.2" />
<text x="108.9" y="362.7" dominant-baseline="central" font-size="4.9" fill="#222">12 months ; n= 40</text>
<text x="108.9" y="370.2" dominant-baseline="central" font-size="4.9" fill="#222">8 months; n= 65</text>
<text x="100.2" y="384.4" dominant-baseline="central" font-size="4.8" font-weight="bold" font-style="italic" fill="#111" stroke="#111" stroke-width="0.2">P = .28</text>
<text x="20.4" y="437.1" dominant-baseline="central" font-size="4.8" font-weight="bold" fill="#111" stroke="#111" stroke-width="0.15">No. at Risk</text>
<path d="M6 444.2H15.9" stroke="#333" stroke-width="0.9" />
<path d="M6 453.9H15.9" stroke="#cc3348" stroke-width="0.9" />
<g font-size="4.05" fill="#1e1e1e"><text x="20.4" y="444.2" dominant-baseline="central">No New SNP-A</text><text x="20.4" y="448.6" dominant-baseline="central">defect</text><text x="20.4" y="454.3" dominant-baseline="central">New SNP-A  defect</text></g>
<rect x="58.5" y="441.2" width="112.5" height="20.3" fill="none" stroke="#111" stroke-width="1"/>
<path d="M58.5 451.35H171M77.25 441.2V461.5M96 441.2V461.5M114.75 441.2V461.5M133.5 441.2V461.5M152.25 441.2V461.5" stroke="#222" stroke-width="0.8" fill="none"/>
<g font-size="4.2" fill="#1a1a1a" text-anchor="middle"><text x="67.88" y="445.88" dominant-baseline="central">40</text><text x="86.62" y="445.88" dominant-baseline="central">1</text><text x="105.38" y="445.88" dominant-baseline="central">0</text><text x="124.12" y="445.88" dominant-baseline="central">0</text><text x="142.88" y="445.88" dominant-baseline="central">0</text><text x="161.62" y="445.88" dominant-baseline="central">0</text><text x="67.88" y="456.03" dominant-baseline="central">65</text><text x="86.62" y="456.03" dominant-baseline="central">4</text><text x="105.38" y="456.03" dominant-baseline="central">1</text><text x="124.12" y="456.03" dominant-baseline="central">0</text><text x="142.88" y="456.03" dominant-baseline="central">0</text><text x="161.62" y="456.03" dominant-baseline="central">0</text></g>
<text x="218.1" y="371.4" font-size="10.2" font-weight="bold" fill="#111" stroke="#111" stroke-width="0.55">K</text>
<text transform="translate(232.9 400.5) rotate(-90)" text-anchor="middle" dominant-baseline="central" font-size="4.8" font-weight="bold" fill="#222" stroke="#222" stroke-width="0.15">% Event Free</text>
<path d="M246 362.7 V425.5" stroke="#777" stroke-width="0.9" fill="none"/>
<path d="M244.4 424.3H246M244.4 418.17H246M244.4 412.04H246M244.4 405.91H246M244.4 399.78H246M244.4 393.65H246M244.4 387.52H246M244.4 381.39H246M244.4 375.26H246M244.4 369.13H246M244.4 363H246" stroke="#555" stroke-width="0.6" fill="none"/>
<g font-size="3.1" font-weight="bold" fill="#333"><text x="243.7" y="424.3" text-anchor="end" dominant-baseline="central">0.0</text><text x="243.7" y="418.17" text-anchor="end" dominant-baseline="central">0.1</text><text x="243.7" y="412.04" text-anchor="end" dominant-baseline="central">0.2</text><text x="243.7" y="405.91" text-anchor="end" dominant-baseline="central">0.3</text><text x="243.7" y="399.78" text-anchor="end" dominant-baseline="central">0.4</text><text x="243.7" y="393.65" text-anchor="end" dominant-baseline="central">0.5</text><text x="243.7" y="387.52" text-anchor="end" dominant-baseline="central">0.6</text><text x="243.7" y="381.39" text-anchor="end" dominant-baseline="central">0.7</text><text x="243.7" y="375.26" text-anchor="end" dominant-baseline="central">0.8</text><text x="243.7" y="369.13" text-anchor="end" dominant-baseline="central">0.9</text><text x="243.7" y="363" text-anchor="end" dominant-baseline="central">1.0</text></g>
<path d="M246 424.3 H339.5" stroke="#888" stroke-width="0.9" fill="none"/>
<path d="M246 424.3V425.5M264.6 424.3V425.5M283.2 424.3V425.5M301.8 424.3V425.5M320.4 424.3V425.5M339 424.3V425.5" stroke="#666" stroke-width="0.6" fill="none"/>
<g font-size="3.3" font-weight="bold" fill="#2a2a2a"><text x="246" y="428.7" text-anchor="middle" dominant-baseline="central">0</text><text x="264.6" y="428.7" text-anchor="middle" dominant-baseline="central">40</text><text x="283.2" y="428.7" text-anchor="middle" dominant-baseline="central">80</text><text x="301.8" y="428.7" text-anchor="middle" dominant-baseline="central">120</text><text x="320.4" y="428.7" text-anchor="middle" dominant-baseline="central">160</text><text x="339" y="428.7" text-anchor="middle" dominant-baseline="central">200</text></g>
<text x="296.3" y="434.9" text-anchor="middle" dominant-baseline="central" font-size="4.8" font-weight="bold" fill="#222" stroke="#222" stroke-width="0.15">EFS (months)</text>
<path d="M246 363L247.01 363L247.01 371.85L248.39 371.85L248.39 385.45L249.47 385.45L249.47 392.51L250.59 392.51L250.59 397.85L251.15 397.85L251.15 399.82L252.04 399.82L252.04 402.94L253.51 402.94L253.51 406.55L254.42 406.55L254.42 408.71L255.92 408.71L255.92 413.56L257.27 413.56L257.27 415.93L258.74 415.93L258.74 416.25L259.82 416.25L259.82 416.49L260.69 416.49L260.69 416.58L261.29 416.58L262.16 416.58L263.21 416.58L263.9 416.58L264.97 416.58L265.81 416.58L266.89 416.58L267.84 416.58L268.5 416.58L269.42 416.58L270.7 416.58L271.24 416.58L272.17 416.58L272.17 417.03L273.26 417.03L273.26 417.99L273.78 417.99L274.68 417.99L275.58 417.99L276.87 417.99L277.93 417.99L279.42 417.99L280.76 417.99L282.14 417.99L283.43 417.99L284.47 417.99L285.1 417.99L286.08 417.99L286.8 417.99L287.4 417.99L288.71 417.99L290.04 417.99L291.49 417.99L292.3 417.99L292.98 417.99L293.67 417.99L295.05 417.99L296.05 417.99L296.98 417.99L297.15 417.99V424.3" stroke="#cc3348" stroke-width="1.1" fill="none"/>
<path d="M246 363L246.92 363L246.92 368.56L248.27 368.56L248.27 381.9L249.48 381.9L249.48 392.89L250.08 392.89L250.08 395.74L251.42 395.74L251.42 400.81L252.69 400.81L252.69 404.13L253.63 404.13L253.63 406.18L254.91 406.18L254.91 408.78L255.71 408.78L255.71 410.91L256.91 410.91L256.91 413.88L257.49 413.88L257.49 414.47L258.24 414.47L258.24 415.23L259.66 415.23L259.66 417.11L260.91 417.11L260.91 417.99L261.45 417.99L262.79 417.99L263.67 417.99L264.65 417.99L265.41 417.99L266.78 417.99L267.53 417.99V424.3" stroke="#111" stroke-width="1.35" fill="none"/>
<path d="M268.31 417.48v-1.8M288.81 418.89v-1.8" stroke="#333" stroke-width="0.6" fill="none"/>
<path d="M261.85 418.89v-1.8" stroke="#111" stroke-width="0.6" fill="none"/>
<path d="M269.9 363.1H279.8" stroke="#111" stroke-width="1.25" />
<path d="M269.9 370.7H279.8" stroke="#cc3348" stroke-width="1.2" />
<text x="283.2" y="363.2" dominant-baseline="central" font-size="4.9" fill="#222">9 months ; n= 40</text>
<text x="283.2" y="371.1" dominant-baseline="central" font-size="4.9" fill="#222">6 months; n= 65</text>
<text x="273.9" y="383.9" dominant-baseline="central" font-size="4.8" font-weight="bold" font-style="italic" fill="#111" stroke="#111" stroke-width="0.2">P = .41</text>
<text x="191.1" y="437.8" dominant-baseline="central" font-size="4.8" font-weight="bold" fill="#111" stroke="#111" stroke-width="0.15">No. at Risk</text>
<path d="M176 445.2H186.4" stroke="#333" stroke-width="0.9" />
<path d="M176 455.1H186.4" stroke="#cc3348" stroke-width="0.9" />
<g font-size="4.05" fill="#1e1e1e"><text x="191.1" y="445.6" dominant-baseline="central">No New SNP-A</text><text x="191.1" y="450.3" dominant-baseline="central">defect</text><text x="191.1" y="455.5" dominant-baseline="central">New SNP-A  defect</text></g>
<rect x="234.9" y="441.2" width="112" height="19.9" fill="none" stroke="#111" stroke-width="1"/>
<path d="M234.9 451.15H346.9M253.57 441.2V461.1M272.23 441.2V461.1M290.9 441.2V461.1M309.57 441.2V461.1M328.23 441.2V461.1" stroke="#222" stroke-width="0.8" fill="none"/>
<g font-size="4.2" fill="#1a1a1a" text-anchor="middle"><text x="244.23" y="445.77" dominant-baseline="central">40</text><text x="262.9" y="445.77" dominant-baseline="central">1</text><text x="281.57" y="445.77" dominant-baseline="central">0</text><text x="300.23" y="445.77" dominant-baseline="central">0</text><text x="318.9" y="445.77" dominant-baseline="central">0</text><text x="337.57" y="445.77" dominant-baseline="central">0</text><text x="244.23" y="455.73" dominant-baseline="central">65</text><text x="262.9" y="455.73" dominant-baseline="central">4</text><text x="281.57" y="455.73" dominant-baseline="central">1</text><text x="300.23" y="455.73" dominant-baseline="central">0</text><text x="318.9" y="455.73" dominant-baseline="central">0</text><text x="337.57" y="455.73" dominant-baseline="central">0</text></g>
<text x="383.1" y="371.4" font-size="10.2" font-weight="bold" fill="#111" stroke="#111" stroke-width="0.55">L</text>
<text transform="translate(402.1 395.8) rotate(-90)" text-anchor="middle" dominant-baseline="central" font-size="4.8" font-weight="bold" fill="#222" stroke="#222" stroke-width="0.15">% Progression Free</text>
<path d="M413.3 364.2 V428.5" stroke="#777" stroke-width="0.9" fill="none"/>
<path d="M411.7 427.3H413.3M411.7 421.02H413.3M411.7 414.74H413.3M411.7 408.46H413.3M411.7 402.18H413.3M411.7 395.9H413.3M411.7 389.62H413.3M411.7 383.34H413.3M411.7 377.06H413.3M411.7 370.78H413.3M411.7 364.5H413.3" stroke="#555" stroke-width="0.6" fill="none"/>
<g font-size="3.1" font-weight="bold" fill="#333"><text x="411" y="427.3" text-anchor="end" dominant-baseline="central">0.0</text><text x="411" y="421.02" text-anchor="end" dominant-baseline="central">0.1</text><text x="411" y="414.74" text-anchor="end" dominant-baseline="central">0.2</text><text x="411" y="408.46" text-anchor="end" dominant-baseline="central">0.3</text><text x="411" y="402.18" text-anchor="end" dominant-baseline="central">0.4</text><text x="411" y="395.9" text-anchor="end" dominant-baseline="central">0.5</text><text x="411" y="389.62" text-anchor="end" dominant-baseline="central">0.6</text><text x="411" y="383.34" text-anchor="end" dominant-baseline="central">0.7</text><text x="411" y="377.06" text-anchor="end" dominant-baseline="central">0.8</text><text x="411" y="370.78" text-anchor="end" dominant-baseline="central">0.9</text><text x="411" y="364.5" text-anchor="end" dominant-baseline="central">1.0</text></g>
<path d="M413.3 427.3 H506.5" stroke="#888" stroke-width="0.9" fill="none"/>
<path d="M413.3 427.3V428.5M431.84 427.3V428.5M450.38 427.3V428.5M468.92 427.3V428.5M487.46 427.3V428.5M506 427.3V428.5" stroke="#666" stroke-width="0.6" fill="none"/>
<g font-size="3.3" font-weight="bold" fill="#2a2a2a"><text x="413.3" y="430.3" text-anchor="middle" dominant-baseline="central">0</text><text x="431.84" y="430.3" text-anchor="middle" dominant-baseline="central">40</text><text x="450.38" y="430.3" text-anchor="middle" dominant-baseline="central">80</text><text x="468.92" y="430.3" text-anchor="middle" dominant-baseline="central">120</text><text x="487.46" y="430.3" text-anchor="middle" dominant-baseline="central">160</text><text x="506" y="430.3" text-anchor="middle" dominant-baseline="central">200</text></g>
<text x="463.2" y="435.4" text-anchor="middle" dominant-baseline="central" font-size="4.8" font-weight="bold" fill="#222" stroke="#222" stroke-width="0.15">PFS (months)</text>
<path d="M413.3 364.5L414.35 364.5L414.35 375.5L415.09 375.5L415.09 384.01L416.14 384.01L416.14 394.74L417.46 394.74L417.46 402.12L418.81 402.12L418.81 406.49L420.18 406.49L420.18 410.67L421.31 410.67L421.31 414.04L422.76 414.04L422.76 417.54L423.78 417.54L423.78 419.79L424.59 419.79L424.59 420.2L425.62 420.2L425.62 420.72L426.94 420.72L426.94 421.39L428.37 421.39L428.37 422.27L429.06 422.27L429.06 423.02L430.58 423.02L430.58 423.53L431.82 423.53L432.62 423.53L433.18 423.53L434.67 423.53L435.19 423.53L436.46 423.53L437.76 423.53L438.89 423.53L440.1 423.53L440.92 423.53L442.31 423.53L443.05 423.53L444.47 423.53L445.36 423.53L446.59 423.53L447.59 423.53L448.67 423.53L448.67 425.1L449.78 425.1L450.74 425.1L452.26 425.1L452.98 425.1L454.39 425.1L455.9 425.1L456.79 425.1L458.24 425.1L458.89 425.1L459.95 425.1L460.88 425.1L462.38 425.1L463.75 425.1L464.05 425.1V427.3" stroke="#cc3348" stroke-width="1.1" fill="none"/>
<path d="M413.3 364.5L414.53 364.5L414.53 373.95L415.35 373.95L415.35 382.63L416.81 382.63L416.81 396.16L418.23 396.16L418.23 403.57L419.28 403.57L419.28 406.35L420.47 406.35L420.47 409.18L421.76 409.18L421.76 411.41L422.76 411.41L422.76 413.97L424.2 413.97L424.2 417.83L425.6 417.83L425.6 418.8L427 418.8L427 419.74L428.15 419.74L428.15 420.5L429.43 420.5L429.43 421.57L430.95 421.57L430.95 421.65L431.46 421.65L432.67 421.65L434.02 421.65L434.55 421.65L434.62 421.65V427.3" stroke="#111" stroke-width="1.35" fill="none"/>
<path d="M435.72 424.43v-1.8" stroke="#333" stroke-width="0.6" fill="none"/>
<path d="M428.99 421.4v-1.8" stroke="#111" stroke-width="0.6" fill="none"/>
<path d="M439.9 363.1H449.8" stroke="#111" stroke-width="1.25" />
<path d="M439.9 370.7H449.8" stroke="#cc3348" stroke-width="1.2" />
<text x="455" y="363.2" dominant-baseline="central" font-size="4.9" fill="#222">9 months ; n= 40</text>
<text x="455" y="371.1" dominant-baseline="central" font-size="4.9" fill="#222">5 months; n= 65</text>
<text x="445.6" y="385.2" dominant-baseline="central" font-size="4.8" font-weight="bold" font-style="italic" fill="#111" stroke="#111" stroke-width="0.2">P = .23</text>
<text x="366" y="437.8" dominant-baseline="central" font-size="4.8" font-weight="bold" fill="#111" stroke="#111" stroke-width="0.15">No. at Risk</text>
<path d="M351.8 444.7H361.6" stroke="#333" stroke-width="0.9" />
<path d="M351.8 454.6H361.6" stroke="#cc3348" stroke-width="0.9" />
<g font-size="4.05" fill="#1e1e1e"><text x="366" y="445.1" dominant-baseline="central">No New SNP-A</text><text x="366" y="449.8" dominant-baseline="central">defect</text><text x="366" y="455.5" dominant-baseline="central">New SNP-A  defect</text></g>
<rect x="404.9" y="442.1" width="108.4" height="19.9" fill="none" stroke="#111" stroke-width="1"/>
<path d="M404.9 452.05H513.3M422.97 442.1V462M441.03 442.1V462M459.1 442.1V462M477.17 442.1V462M495.23 442.1V462" stroke="#222" stroke-width="0.8" fill="none"/>
<g font-size="4.2" fill="#1a1a1a" text-anchor="middle"><text x="413.93" y="446.68" dominant-baseline="central">40</text><text x="432" y="446.68" dominant-baseline="central">1</text><text x="450.07" y="446.68" dominant-baseline="central">0</text><text x="468.13" y="446.68" dominant-baseline="central">0</text><text x="486.2" y="446.68" dominant-baseline="central">0</text><text x="504.27" y="446.68" dominant-baseline="central">0</text><text x="413.93" y="456.62" dominant-baseline="central">65</text><text x="432" y="456.62" dominant-baseline="central">2</text><text x="450.07" y="456.62" dominant-baseline="central">1</text><text x="468.13" y="456.62" dominant-baseline="central">0</text><text x="486.2" y="456.62" dominant-baseline="central">0</text><text x="504.27" y="456.62" dominant-baseline="central">0</text></g>
</svg>
</body></html>
